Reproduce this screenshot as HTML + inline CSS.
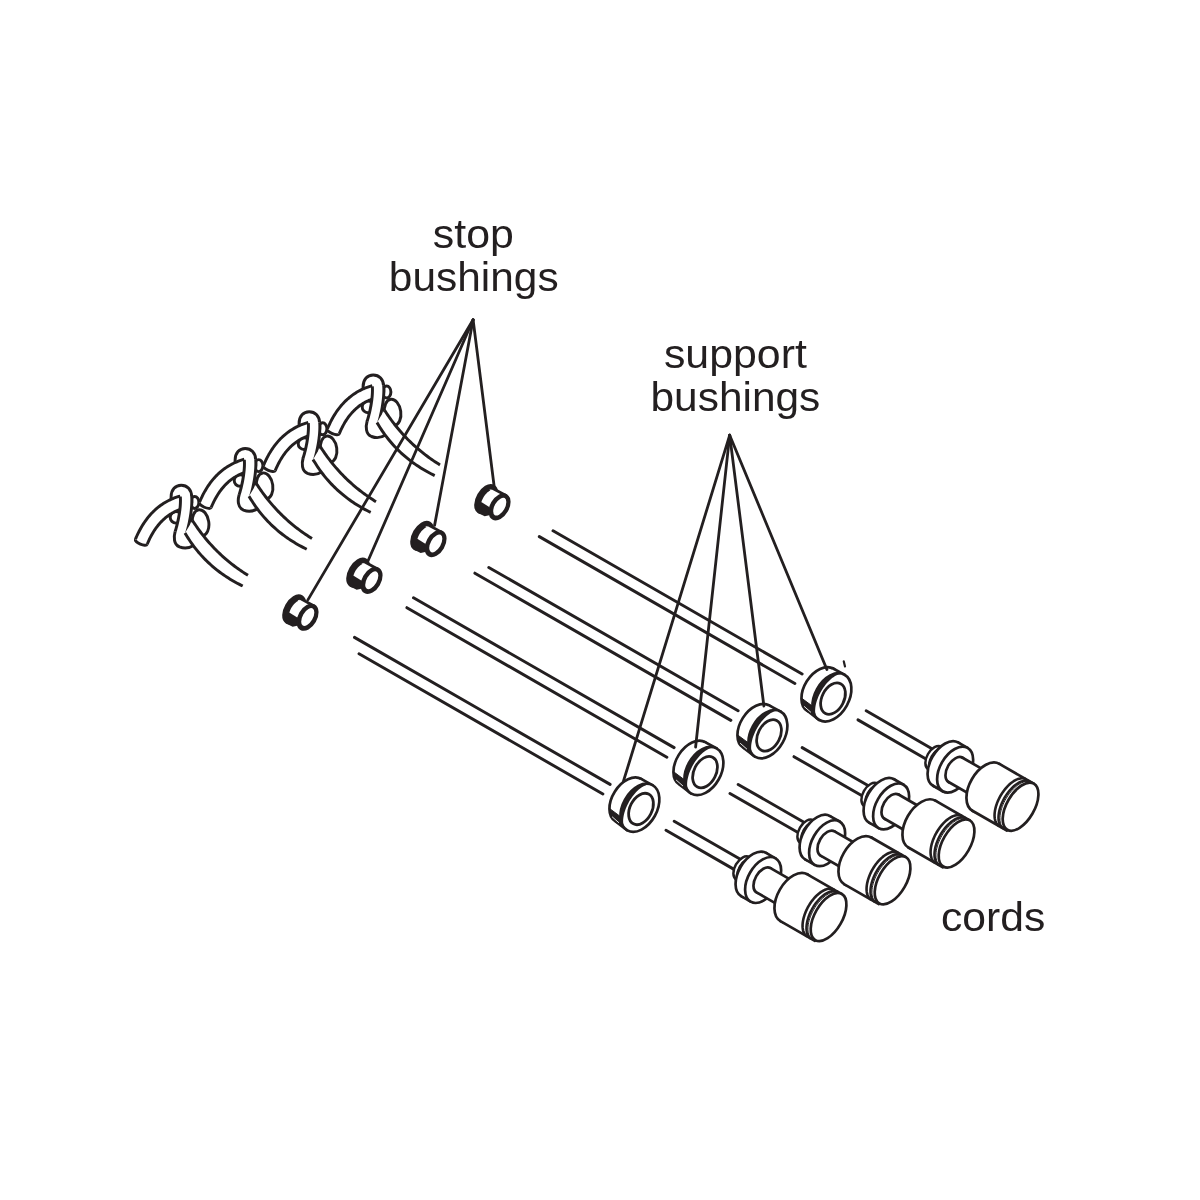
<!DOCTYPE html>
<html><head><meta charset="utf-8"><style>
html,body{margin:0;padding:0;background:#fff;}
body{width:1200px;height:1200px;position:relative;overflow:hidden;}
svg{position:absolute;left:0;top:0;}
</style></head><body>
<svg width="1200" height="1200" viewBox="0 0 1200 1200">
<g stroke-linejoin="round">
<g transform="translate(0.00 -0.00)">
<ellipse cx="200.6" cy="522.8" rx="8.2" ry="13.2" transform="rotate(-8 200.6 522.8)" fill="#fff" stroke="#231f20" stroke-width="2.95"/>
<ellipse cx="194.6" cy="502.4" rx="4.3" ry="6.0" fill="#fff" stroke="#231f20" stroke-width="2.95"/>
<circle cx="176" cy="517.3" r="5.8" fill="#fff" stroke="#231f20" stroke-width="2.95"/>
<path d="M171.1,512 L171.1,497 C171.1,489.5 175.5,485.3 181.2,485.3 C187,485.3 191.7,489.5 191.7,497 L191.7,503" fill="#fff" stroke="#231f20" stroke-width="2.95"/>
<path d="M147.20,544.28 L147.85,542.75 L148.49,541.29 L149.14,539.87 L149.81,538.48 L150.50,537.12 L151.20,535.79 L151.92,534.50 L152.65,533.23 L153.39,532.00 L154.15,530.80 L154.92,529.63 L155.71,528.49 L156.51,527.39 L157.33,526.31 L158.16,525.26 L159.00,524.25 L159.86,523.26 L160.73,522.31 L161.61,521.38 L162.51,520.49 L163.43,519.62 L164.35,518.78 L165.30,517.97 L166.25,517.19 L167.22,516.44 L168.21,515.71 L169.21,515.01 L170.22,514.34 L171.26,513.70 L172.30,513.08 L173.37,512.49 L174.44,511.93 L175.54,511.39 L176.65,510.88 L177.78,510.40 L178.93,509.94 L180.10,509.51 L181.28,509.10 L182.48,508.72 L183.78,508.35 L180.22,496.05 L178.78,496.47 L177.28,496.94 L175.80,497.45 L174.34,497.99 L172.89,498.57 L171.46,499.18 L170.06,499.82 L168.67,500.51 L167.30,501.22 L165.95,501.97 L164.62,502.75 L163.31,503.57 L162.02,504.42 L160.75,505.31 L159.50,506.23 L158.28,507.18 L157.07,508.16 L155.89,509.18 L154.73,510.23 L153.59,511.31 L152.47,512.43 L151.37,513.57 L150.30,514.75 L149.25,515.96 L148.22,517.20 L147.21,518.47 L146.23,519.77 L145.26,521.10 L144.32,522.46 L143.40,523.85 L142.50,525.27 L141.63,526.72 L140.77,528.20 L139.94,529.71 L139.13,531.24 L138.33,532.81 L137.57,534.41 L136.82,536.03 L136.09,537.69 L135.40,539.32 Z" fill="#fff" stroke="none" stroke-width="2.95"/>
<path d="M147.20,544.28 L147.85,542.75 L148.49,541.29 L149.14,539.87 L149.81,538.48 L150.50,537.12 L151.20,535.79 L151.92,534.50 L152.65,533.23 L153.39,532.00 L154.15,530.80 L154.92,529.63 L155.71,528.49 L156.51,527.39 L157.33,526.31 L158.16,525.26 L159.00,524.25 L159.86,523.26 L160.73,522.31 L161.61,521.38 L162.51,520.49 L163.43,519.62 L164.35,518.78 L165.30,517.97 L166.25,517.19 L167.22,516.44 L168.21,515.71 L169.21,515.01 L170.22,514.34 L171.26,513.70 L172.30,513.08 L173.37,512.49 L174.44,511.93 L175.54,511.39 L176.65,510.88 L177.78,510.40 L178.93,509.94 L180.10,509.51 L181.28,509.10 L182.48,508.72 L183.78,508.35" fill="none" stroke="#231f20" stroke-width="2.95"/>
<path d="M135.40,539.32 L136.09,537.69 L136.82,536.03 L137.57,534.41 L138.33,532.81 L139.13,531.24 L139.94,529.71 L140.77,528.20 L141.63,526.72 L142.50,525.27 L143.40,523.85 L144.32,522.46 L145.26,521.10 L146.23,519.77 L147.21,518.47 L148.22,517.20 L149.25,515.96 L150.30,514.75 L151.37,513.57 L152.47,512.43 L153.59,511.31 L154.73,510.23 L155.89,509.18 L157.07,508.16 L158.28,507.18 L159.50,506.23 L160.75,505.31 L162.02,504.42 L163.31,503.57 L164.62,502.75 L165.95,501.97 L167.30,501.22 L168.67,500.51 L170.06,499.82 L171.46,499.18 L172.89,498.57 L174.34,497.99 L175.80,497.45 L177.28,496.94 L178.78,496.47 L180.22,496.05" fill="none" stroke="#231f20" stroke-width="2.95"/>
<path d="M147.20,544.28 C145.94,547.28 134.14,542.31 135.40,539.32" fill="#fff" stroke="#231f20" stroke-width="2.95"/>
<path d="M180.32,496.72 L180.37,497.41 L180.40,498.07 L180.43,498.76 L180.45,499.46 L180.46,500.20 L180.46,500.95 L180.44,501.72 L180.42,502.50 L180.39,503.31 L180.35,504.13 L180.30,504.96 L180.24,505.81 L180.17,506.68 L180.09,507.55 L180.00,508.44 L179.90,509.34 L179.79,510.24 L179.67,511.16 L179.55,512.08 L179.41,513.01 L179.27,513.94 L179.12,514.88 L178.96,515.83 L178.79,516.78 L178.61,517.73 L178.42,518.68 L178.23,519.64 L178.03,520.59 L177.82,521.54 L177.61,522.50 L177.38,523.45 L177.15,524.39 L176.91,525.34 L176.67,526.27 L176.42,527.21 L176.16,528.13 L175.90,529.05 L175.63,529.97 L175.35,530.87 L175.06,531.79 L185.94,535.21 L186.24,534.25 L186.55,533.25 L186.84,532.24 L187.13,531.23 L187.42,530.21 L187.69,529.19 L187.96,528.16 L188.22,527.13 L188.47,526.10 L188.71,525.06 L188.95,524.02 L189.18,522.98 L189.40,521.94 L189.61,520.90 L189.81,519.86 L190.00,518.82 L190.19,517.78 L190.36,516.75 L190.53,515.72 L190.69,514.69 L190.84,513.67 L190.98,512.65 L191.10,511.64 L191.22,510.63 L191.33,509.64 L191.43,508.64 L191.52,507.66 L191.60,506.69 L191.67,505.72 L191.73,504.76 L191.78,503.82 L191.82,502.88 L191.84,501.96 L191.86,501.05 L191.86,500.15 L191.85,499.26 L191.83,498.38 L191.79,497.52 L191.74,496.67 L191.68,495.88 Z" fill="#fff" stroke="none" stroke-width="2.95"/>
<path d="M180.32,496.72 L180.37,497.41 L180.40,498.07 L180.43,498.76 L180.45,499.46 L180.46,500.20 L180.46,500.95 L180.44,501.72 L180.42,502.50 L180.39,503.31 L180.35,504.13 L180.30,504.96 L180.24,505.81 L180.17,506.68 L180.09,507.55 L180.00,508.44 L179.90,509.34 L179.79,510.24 L179.67,511.16 L179.55,512.08 L179.41,513.01 L179.27,513.94 L179.12,514.88 L178.96,515.83 L178.79,516.78 L178.61,517.73 L178.42,518.68 L178.23,519.64 L178.03,520.59 L177.82,521.54 L177.61,522.50 L177.38,523.45 L177.15,524.39 L176.91,525.34 L176.67,526.27 L176.42,527.21 L176.16,528.13 L175.90,529.05 L175.63,529.97 L175.35,530.87 L175.06,531.79" fill="none" stroke="#231f20" stroke-width="2.95"/>
<path d="M191.68,495.88 L191.74,496.67 L191.79,497.52 L191.83,498.38 L191.85,499.26 L191.86,500.15 L191.86,501.05 L191.84,501.96 L191.82,502.88 L191.78,503.82 L191.73,504.76 L191.67,505.72 L191.60,506.69 L191.52,507.66 L191.43,508.64 L191.33,509.64 L191.22,510.63 L191.10,511.64 L190.98,512.65 L190.84,513.67 L190.69,514.69 L190.53,515.72 L190.36,516.75 L190.19,517.78 L190.00,518.82 L189.81,519.86 L189.61,520.90 L189.40,521.94 L189.18,522.98 L188.95,524.02 L188.71,525.06 L188.47,526.10 L188.22,527.13 L187.96,528.16 L187.69,529.19 L187.42,530.21 L187.13,531.23 L186.84,532.24 L186.55,533.25 L186.24,534.25 L185.94,535.21" fill="none" stroke="#231f20" stroke-width="2.95"/>
<path d="M175.1,531.6 C173.6,537 173.6,544.5 179.5,546.9 C184.5,548.8 189.5,548 193.5,545.5" fill="#fff" stroke="#231f20" stroke-width="2.95"/>
<path d="M192.50,520.50 L193.59,522.19 L194.70,523.87 L195.82,525.53 L196.95,527.17 L198.10,528.79 L199.27,530.40 L200.45,532.00 L201.65,533.57 L202.86,535.13 L204.09,536.67 L205.33,538.20 L206.59,539.71 L207.86,541.21 L209.15,542.68 L210.45,544.14 L211.77,545.59 L213.11,547.02 L214.46,548.43 L215.82,549.82 L217.20,551.20 L218.60,552.56 L220.01,553.91 L221.43,555.24 L222.87,556.55 L224.33,557.84 L225.80,559.12 L227.29,560.39 L228.79,561.63 L230.31,562.86 L231.84,564.08 L233.39,565.27 L234.95,566.45 L236.53,567.62 L238.12,568.76 L239.73,569.89 L241.35,571.01 L242.99,572.11 L244.65,573.19 L246.32,574.25 L248.00,575.30 L242.70,586.00 L240.84,585.08 L239.00,584.15 L237.18,583.19 L235.38,582.21 L233.61,581.21 L231.85,580.19 L230.12,579.15 L228.41,578.09 L226.72,577.00 L225.05,575.90 L223.40,574.77 L221.78,573.63 L220.17,572.46 L218.59,571.27 L217.03,570.06 L215.49,568.83 L213.97,567.58 L212.48,566.31 L211.00,565.01 L209.55,563.70 L208.12,562.36 L206.71,561.01 L205.32,559.63 L203.95,558.23 L202.61,556.81 L201.28,555.37 L199.98,553.91 L198.70,552.43 L197.44,550.92 L196.20,549.40 L194.98,547.85 L193.79,546.29 L192.61,544.70 L191.46,543.09 L190.33,541.46 L189.22,539.81 L188.13,538.14 L187.07,536.45 L186.02,534.73 L185.00,533.00 Z" fill="#fff" stroke="none" stroke-width="2.95"/>
<path d="M192.50,520.50 L193.59,522.19 L194.70,523.87 L195.82,525.53 L196.95,527.17 L198.10,528.79 L199.27,530.40 L200.45,532.00 L201.65,533.57 L202.86,535.13 L204.09,536.67 L205.33,538.20 L206.59,539.71 L207.86,541.21 L209.15,542.68 L210.45,544.14 L211.77,545.59 L213.11,547.02 L214.46,548.43 L215.82,549.82 L217.20,551.20 L218.60,552.56 L220.01,553.91 L221.43,555.24 L222.87,556.55 L224.33,557.84 L225.80,559.12 L227.29,560.39 L228.79,561.63 L230.31,562.86 L231.84,564.08 L233.39,565.27 L234.95,566.45 L236.53,567.62 L238.12,568.76 L239.73,569.89 L241.35,571.01 L242.99,572.11 L244.65,573.19 L246.32,574.25 L248.00,575.30" fill="none" stroke="#231f20" stroke-width="2.95"/>
<path d="M185.00,533.00 L186.02,534.73 L187.07,536.45 L188.13,538.14 L189.22,539.81 L190.33,541.46 L191.46,543.09 L192.61,544.70 L193.79,546.29 L194.98,547.85 L196.20,549.40 L197.44,550.92 L198.70,552.43 L199.98,553.91 L201.28,555.37 L202.61,556.81 L203.95,558.23 L205.32,559.63 L206.71,561.01 L208.12,562.36 L209.55,563.70 L211.00,565.01 L212.48,566.31 L213.97,567.58 L215.49,568.83 L217.03,570.06 L218.59,571.27 L220.17,572.46 L221.78,573.63 L223.40,574.77 L225.05,575.90 L226.72,577.00 L228.41,578.09 L230.12,579.15 L231.85,580.19 L233.61,581.21 L235.38,582.21 L237.18,583.19 L239.00,584.15 L240.84,585.08 L242.70,586.00" fill="none" stroke="#231f20" stroke-width="2.95"/>
</g>
<g transform="translate(64.00 -36.80)">
<ellipse cx="200.6" cy="522.8" rx="8.2" ry="13.2" transform="rotate(-8 200.6 522.8)" fill="#fff" stroke="#231f20" stroke-width="2.95"/>
<ellipse cx="194.6" cy="502.4" rx="4.3" ry="6.0" fill="#fff" stroke="#231f20" stroke-width="2.95"/>
<circle cx="176" cy="517.3" r="5.8" fill="#fff" stroke="#231f20" stroke-width="2.95"/>
<path d="M171.1,512 L171.1,497 C171.1,489.5 175.5,485.3 181.2,485.3 C187,485.3 191.7,489.5 191.7,497 L191.7,503" fill="#fff" stroke="#231f20" stroke-width="2.95"/>
<path d="M147.20,544.28 L147.85,542.75 L148.49,541.29 L149.14,539.87 L149.81,538.48 L150.50,537.12 L151.20,535.79 L151.92,534.50 L152.65,533.23 L153.39,532.00 L154.15,530.80 L154.92,529.63 L155.71,528.49 L156.51,527.39 L157.33,526.31 L158.16,525.26 L159.00,524.25 L159.86,523.26 L160.73,522.31 L161.61,521.38 L162.51,520.49 L163.43,519.62 L164.35,518.78 L165.30,517.97 L166.25,517.19 L167.22,516.44 L168.21,515.71 L169.21,515.01 L170.22,514.34 L171.26,513.70 L172.30,513.08 L173.37,512.49 L174.44,511.93 L175.54,511.39 L176.65,510.88 L177.78,510.40 L178.93,509.94 L180.10,509.51 L181.28,509.10 L182.48,508.72 L183.78,508.35 L180.22,496.05 L178.78,496.47 L177.28,496.94 L175.80,497.45 L174.34,497.99 L172.89,498.57 L171.46,499.18 L170.06,499.82 L168.67,500.51 L167.30,501.22 L165.95,501.97 L164.62,502.75 L163.31,503.57 L162.02,504.42 L160.75,505.31 L159.50,506.23 L158.28,507.18 L157.07,508.16 L155.89,509.18 L154.73,510.23 L153.59,511.31 L152.47,512.43 L151.37,513.57 L150.30,514.75 L149.25,515.96 L148.22,517.20 L147.21,518.47 L146.23,519.77 L145.26,521.10 L144.32,522.46 L143.40,523.85 L142.50,525.27 L141.63,526.72 L140.77,528.20 L139.94,529.71 L139.13,531.24 L138.33,532.81 L137.57,534.41 L136.82,536.03 L136.09,537.69 L135.40,539.32 Z" fill="#fff" stroke="none" stroke-width="2.95"/>
<path d="M147.20,544.28 L147.85,542.75 L148.49,541.29 L149.14,539.87 L149.81,538.48 L150.50,537.12 L151.20,535.79 L151.92,534.50 L152.65,533.23 L153.39,532.00 L154.15,530.80 L154.92,529.63 L155.71,528.49 L156.51,527.39 L157.33,526.31 L158.16,525.26 L159.00,524.25 L159.86,523.26 L160.73,522.31 L161.61,521.38 L162.51,520.49 L163.43,519.62 L164.35,518.78 L165.30,517.97 L166.25,517.19 L167.22,516.44 L168.21,515.71 L169.21,515.01 L170.22,514.34 L171.26,513.70 L172.30,513.08 L173.37,512.49 L174.44,511.93 L175.54,511.39 L176.65,510.88 L177.78,510.40 L178.93,509.94 L180.10,509.51 L181.28,509.10 L182.48,508.72 L183.78,508.35" fill="none" stroke="#231f20" stroke-width="2.95"/>
<path d="M135.40,539.32 L136.09,537.69 L136.82,536.03 L137.57,534.41 L138.33,532.81 L139.13,531.24 L139.94,529.71 L140.77,528.20 L141.63,526.72 L142.50,525.27 L143.40,523.85 L144.32,522.46 L145.26,521.10 L146.23,519.77 L147.21,518.47 L148.22,517.20 L149.25,515.96 L150.30,514.75 L151.37,513.57 L152.47,512.43 L153.59,511.31 L154.73,510.23 L155.89,509.18 L157.07,508.16 L158.28,507.18 L159.50,506.23 L160.75,505.31 L162.02,504.42 L163.31,503.57 L164.62,502.75 L165.95,501.97 L167.30,501.22 L168.67,500.51 L170.06,499.82 L171.46,499.18 L172.89,498.57 L174.34,497.99 L175.80,497.45 L177.28,496.94 L178.78,496.47 L180.22,496.05" fill="none" stroke="#231f20" stroke-width="2.95"/>
<path d="M147.20,544.28 C145.94,547.28 134.14,542.31 135.40,539.32" fill="#fff" stroke="#231f20" stroke-width="2.95"/>
<path d="M180.32,496.72 L180.37,497.41 L180.40,498.07 L180.43,498.76 L180.45,499.46 L180.46,500.20 L180.46,500.95 L180.44,501.72 L180.42,502.50 L180.39,503.31 L180.35,504.13 L180.30,504.96 L180.24,505.81 L180.17,506.68 L180.09,507.55 L180.00,508.44 L179.90,509.34 L179.79,510.24 L179.67,511.16 L179.55,512.08 L179.41,513.01 L179.27,513.94 L179.12,514.88 L178.96,515.83 L178.79,516.78 L178.61,517.73 L178.42,518.68 L178.23,519.64 L178.03,520.59 L177.82,521.54 L177.61,522.50 L177.38,523.45 L177.15,524.39 L176.91,525.34 L176.67,526.27 L176.42,527.21 L176.16,528.13 L175.90,529.05 L175.63,529.97 L175.35,530.87 L175.06,531.79 L185.94,535.21 L186.24,534.25 L186.55,533.25 L186.84,532.24 L187.13,531.23 L187.42,530.21 L187.69,529.19 L187.96,528.16 L188.22,527.13 L188.47,526.10 L188.71,525.06 L188.95,524.02 L189.18,522.98 L189.40,521.94 L189.61,520.90 L189.81,519.86 L190.00,518.82 L190.19,517.78 L190.36,516.75 L190.53,515.72 L190.69,514.69 L190.84,513.67 L190.98,512.65 L191.10,511.64 L191.22,510.63 L191.33,509.64 L191.43,508.64 L191.52,507.66 L191.60,506.69 L191.67,505.72 L191.73,504.76 L191.78,503.82 L191.82,502.88 L191.84,501.96 L191.86,501.05 L191.86,500.15 L191.85,499.26 L191.83,498.38 L191.79,497.52 L191.74,496.67 L191.68,495.88 Z" fill="#fff" stroke="none" stroke-width="2.95"/>
<path d="M180.32,496.72 L180.37,497.41 L180.40,498.07 L180.43,498.76 L180.45,499.46 L180.46,500.20 L180.46,500.95 L180.44,501.72 L180.42,502.50 L180.39,503.31 L180.35,504.13 L180.30,504.96 L180.24,505.81 L180.17,506.68 L180.09,507.55 L180.00,508.44 L179.90,509.34 L179.79,510.24 L179.67,511.16 L179.55,512.08 L179.41,513.01 L179.27,513.94 L179.12,514.88 L178.96,515.83 L178.79,516.78 L178.61,517.73 L178.42,518.68 L178.23,519.64 L178.03,520.59 L177.82,521.54 L177.61,522.50 L177.38,523.45 L177.15,524.39 L176.91,525.34 L176.67,526.27 L176.42,527.21 L176.16,528.13 L175.90,529.05 L175.63,529.97 L175.35,530.87 L175.06,531.79" fill="none" stroke="#231f20" stroke-width="2.95"/>
<path d="M191.68,495.88 L191.74,496.67 L191.79,497.52 L191.83,498.38 L191.85,499.26 L191.86,500.15 L191.86,501.05 L191.84,501.96 L191.82,502.88 L191.78,503.82 L191.73,504.76 L191.67,505.72 L191.60,506.69 L191.52,507.66 L191.43,508.64 L191.33,509.64 L191.22,510.63 L191.10,511.64 L190.98,512.65 L190.84,513.67 L190.69,514.69 L190.53,515.72 L190.36,516.75 L190.19,517.78 L190.00,518.82 L189.81,519.86 L189.61,520.90 L189.40,521.94 L189.18,522.98 L188.95,524.02 L188.71,525.06 L188.47,526.10 L188.22,527.13 L187.96,528.16 L187.69,529.19 L187.42,530.21 L187.13,531.23 L186.84,532.24 L186.55,533.25 L186.24,534.25 L185.94,535.21" fill="none" stroke="#231f20" stroke-width="2.95"/>
<path d="M175.1,531.6 C173.6,537 173.6,544.5 179.5,546.9 C184.5,548.8 189.5,548 193.5,545.5" fill="#fff" stroke="#231f20" stroke-width="2.95"/>
<path d="M192.50,520.50 L193.59,522.19 L194.70,523.87 L195.82,525.53 L196.95,527.17 L198.10,528.79 L199.27,530.40 L200.45,532.00 L201.65,533.57 L202.86,535.13 L204.09,536.67 L205.33,538.20 L206.59,539.71 L207.86,541.21 L209.15,542.68 L210.45,544.14 L211.77,545.59 L213.11,547.02 L214.46,548.43 L215.82,549.82 L217.20,551.20 L218.60,552.56 L220.01,553.91 L221.43,555.24 L222.87,556.55 L224.33,557.84 L225.80,559.12 L227.29,560.39 L228.79,561.63 L230.31,562.86 L231.84,564.08 L233.39,565.27 L234.95,566.45 L236.53,567.62 L238.12,568.76 L239.73,569.89 L241.35,571.01 L242.99,572.11 L244.65,573.19 L246.32,574.25 L248.00,575.30 L242.70,586.00 L240.84,585.08 L239.00,584.15 L237.18,583.19 L235.38,582.21 L233.61,581.21 L231.85,580.19 L230.12,579.15 L228.41,578.09 L226.72,577.00 L225.05,575.90 L223.40,574.77 L221.78,573.63 L220.17,572.46 L218.59,571.27 L217.03,570.06 L215.49,568.83 L213.97,567.58 L212.48,566.31 L211.00,565.01 L209.55,563.70 L208.12,562.36 L206.71,561.01 L205.32,559.63 L203.95,558.23 L202.61,556.81 L201.28,555.37 L199.98,553.91 L198.70,552.43 L197.44,550.92 L196.20,549.40 L194.98,547.85 L193.79,546.29 L192.61,544.70 L191.46,543.09 L190.33,541.46 L189.22,539.81 L188.13,538.14 L187.07,536.45 L186.02,534.73 L185.00,533.00 Z" fill="#fff" stroke="none" stroke-width="2.95"/>
<path d="M192.50,520.50 L193.59,522.19 L194.70,523.87 L195.82,525.53 L196.95,527.17 L198.10,528.79 L199.27,530.40 L200.45,532.00 L201.65,533.57 L202.86,535.13 L204.09,536.67 L205.33,538.20 L206.59,539.71 L207.86,541.21 L209.15,542.68 L210.45,544.14 L211.77,545.59 L213.11,547.02 L214.46,548.43 L215.82,549.82 L217.20,551.20 L218.60,552.56 L220.01,553.91 L221.43,555.24 L222.87,556.55 L224.33,557.84 L225.80,559.12 L227.29,560.39 L228.79,561.63 L230.31,562.86 L231.84,564.08 L233.39,565.27 L234.95,566.45 L236.53,567.62 L238.12,568.76 L239.73,569.89 L241.35,571.01 L242.99,572.11 L244.65,573.19 L246.32,574.25 L248.00,575.30" fill="none" stroke="#231f20" stroke-width="2.95"/>
<path d="M185.00,533.00 L186.02,534.73 L187.07,536.45 L188.13,538.14 L189.22,539.81 L190.33,541.46 L191.46,543.09 L192.61,544.70 L193.79,546.29 L194.98,547.85 L196.20,549.40 L197.44,550.92 L198.70,552.43 L199.98,553.91 L201.28,555.37 L202.61,556.81 L203.95,558.23 L205.32,559.63 L206.71,561.01 L208.12,562.36 L209.55,563.70 L211.00,565.01 L212.48,566.31 L213.97,567.58 L215.49,568.83 L217.03,570.06 L218.59,571.27 L220.17,572.46 L221.78,573.63 L223.40,574.77 L225.05,575.90 L226.72,577.00 L228.41,578.09 L230.12,579.15 L231.85,580.19 L233.61,581.21 L235.38,582.21 L237.18,583.19 L239.00,584.15 L240.84,585.08 L242.70,586.00" fill="none" stroke="#231f20" stroke-width="2.95"/>
</g>
<g transform="translate(128.00 -73.60)">
<ellipse cx="200.6" cy="522.8" rx="8.2" ry="13.2" transform="rotate(-8 200.6 522.8)" fill="#fff" stroke="#231f20" stroke-width="2.95"/>
<ellipse cx="194.6" cy="502.4" rx="4.3" ry="6.0" fill="#fff" stroke="#231f20" stroke-width="2.95"/>
<circle cx="176" cy="517.3" r="5.8" fill="#fff" stroke="#231f20" stroke-width="2.95"/>
<path d="M171.1,512 L171.1,497 C171.1,489.5 175.5,485.3 181.2,485.3 C187,485.3 191.7,489.5 191.7,497 L191.7,503" fill="#fff" stroke="#231f20" stroke-width="2.95"/>
<path d="M147.20,544.28 L147.85,542.75 L148.49,541.29 L149.14,539.87 L149.81,538.48 L150.50,537.12 L151.20,535.79 L151.92,534.50 L152.65,533.23 L153.39,532.00 L154.15,530.80 L154.92,529.63 L155.71,528.49 L156.51,527.39 L157.33,526.31 L158.16,525.26 L159.00,524.25 L159.86,523.26 L160.73,522.31 L161.61,521.38 L162.51,520.49 L163.43,519.62 L164.35,518.78 L165.30,517.97 L166.25,517.19 L167.22,516.44 L168.21,515.71 L169.21,515.01 L170.22,514.34 L171.26,513.70 L172.30,513.08 L173.37,512.49 L174.44,511.93 L175.54,511.39 L176.65,510.88 L177.78,510.40 L178.93,509.94 L180.10,509.51 L181.28,509.10 L182.48,508.72 L183.78,508.35 L180.22,496.05 L178.78,496.47 L177.28,496.94 L175.80,497.45 L174.34,497.99 L172.89,498.57 L171.46,499.18 L170.06,499.82 L168.67,500.51 L167.30,501.22 L165.95,501.97 L164.62,502.75 L163.31,503.57 L162.02,504.42 L160.75,505.31 L159.50,506.23 L158.28,507.18 L157.07,508.16 L155.89,509.18 L154.73,510.23 L153.59,511.31 L152.47,512.43 L151.37,513.57 L150.30,514.75 L149.25,515.96 L148.22,517.20 L147.21,518.47 L146.23,519.77 L145.26,521.10 L144.32,522.46 L143.40,523.85 L142.50,525.27 L141.63,526.72 L140.77,528.20 L139.94,529.71 L139.13,531.24 L138.33,532.81 L137.57,534.41 L136.82,536.03 L136.09,537.69 L135.40,539.32 Z" fill="#fff" stroke="none" stroke-width="2.95"/>
<path d="M147.20,544.28 L147.85,542.75 L148.49,541.29 L149.14,539.87 L149.81,538.48 L150.50,537.12 L151.20,535.79 L151.92,534.50 L152.65,533.23 L153.39,532.00 L154.15,530.80 L154.92,529.63 L155.71,528.49 L156.51,527.39 L157.33,526.31 L158.16,525.26 L159.00,524.25 L159.86,523.26 L160.73,522.31 L161.61,521.38 L162.51,520.49 L163.43,519.62 L164.35,518.78 L165.30,517.97 L166.25,517.19 L167.22,516.44 L168.21,515.71 L169.21,515.01 L170.22,514.34 L171.26,513.70 L172.30,513.08 L173.37,512.49 L174.44,511.93 L175.54,511.39 L176.65,510.88 L177.78,510.40 L178.93,509.94 L180.10,509.51 L181.28,509.10 L182.48,508.72 L183.78,508.35" fill="none" stroke="#231f20" stroke-width="2.95"/>
<path d="M135.40,539.32 L136.09,537.69 L136.82,536.03 L137.57,534.41 L138.33,532.81 L139.13,531.24 L139.94,529.71 L140.77,528.20 L141.63,526.72 L142.50,525.27 L143.40,523.85 L144.32,522.46 L145.26,521.10 L146.23,519.77 L147.21,518.47 L148.22,517.20 L149.25,515.96 L150.30,514.75 L151.37,513.57 L152.47,512.43 L153.59,511.31 L154.73,510.23 L155.89,509.18 L157.07,508.16 L158.28,507.18 L159.50,506.23 L160.75,505.31 L162.02,504.42 L163.31,503.57 L164.62,502.75 L165.95,501.97 L167.30,501.22 L168.67,500.51 L170.06,499.82 L171.46,499.18 L172.89,498.57 L174.34,497.99 L175.80,497.45 L177.28,496.94 L178.78,496.47 L180.22,496.05" fill="none" stroke="#231f20" stroke-width="2.95"/>
<path d="M147.20,544.28 C145.94,547.28 134.14,542.31 135.40,539.32" fill="#fff" stroke="#231f20" stroke-width="2.95"/>
<path d="M180.32,496.72 L180.37,497.41 L180.40,498.07 L180.43,498.76 L180.45,499.46 L180.46,500.20 L180.46,500.95 L180.44,501.72 L180.42,502.50 L180.39,503.31 L180.35,504.13 L180.30,504.96 L180.24,505.81 L180.17,506.68 L180.09,507.55 L180.00,508.44 L179.90,509.34 L179.79,510.24 L179.67,511.16 L179.55,512.08 L179.41,513.01 L179.27,513.94 L179.12,514.88 L178.96,515.83 L178.79,516.78 L178.61,517.73 L178.42,518.68 L178.23,519.64 L178.03,520.59 L177.82,521.54 L177.61,522.50 L177.38,523.45 L177.15,524.39 L176.91,525.34 L176.67,526.27 L176.42,527.21 L176.16,528.13 L175.90,529.05 L175.63,529.97 L175.35,530.87 L175.06,531.79 L185.94,535.21 L186.24,534.25 L186.55,533.25 L186.84,532.24 L187.13,531.23 L187.42,530.21 L187.69,529.19 L187.96,528.16 L188.22,527.13 L188.47,526.10 L188.71,525.06 L188.95,524.02 L189.18,522.98 L189.40,521.94 L189.61,520.90 L189.81,519.86 L190.00,518.82 L190.19,517.78 L190.36,516.75 L190.53,515.72 L190.69,514.69 L190.84,513.67 L190.98,512.65 L191.10,511.64 L191.22,510.63 L191.33,509.64 L191.43,508.64 L191.52,507.66 L191.60,506.69 L191.67,505.72 L191.73,504.76 L191.78,503.82 L191.82,502.88 L191.84,501.96 L191.86,501.05 L191.86,500.15 L191.85,499.26 L191.83,498.38 L191.79,497.52 L191.74,496.67 L191.68,495.88 Z" fill="#fff" stroke="none" stroke-width="2.95"/>
<path d="M180.32,496.72 L180.37,497.41 L180.40,498.07 L180.43,498.76 L180.45,499.46 L180.46,500.20 L180.46,500.95 L180.44,501.72 L180.42,502.50 L180.39,503.31 L180.35,504.13 L180.30,504.96 L180.24,505.81 L180.17,506.68 L180.09,507.55 L180.00,508.44 L179.90,509.34 L179.79,510.24 L179.67,511.16 L179.55,512.08 L179.41,513.01 L179.27,513.94 L179.12,514.88 L178.96,515.83 L178.79,516.78 L178.61,517.73 L178.42,518.68 L178.23,519.64 L178.03,520.59 L177.82,521.54 L177.61,522.50 L177.38,523.45 L177.15,524.39 L176.91,525.34 L176.67,526.27 L176.42,527.21 L176.16,528.13 L175.90,529.05 L175.63,529.97 L175.35,530.87 L175.06,531.79" fill="none" stroke="#231f20" stroke-width="2.95"/>
<path d="M191.68,495.88 L191.74,496.67 L191.79,497.52 L191.83,498.38 L191.85,499.26 L191.86,500.15 L191.86,501.05 L191.84,501.96 L191.82,502.88 L191.78,503.82 L191.73,504.76 L191.67,505.72 L191.60,506.69 L191.52,507.66 L191.43,508.64 L191.33,509.64 L191.22,510.63 L191.10,511.64 L190.98,512.65 L190.84,513.67 L190.69,514.69 L190.53,515.72 L190.36,516.75 L190.19,517.78 L190.00,518.82 L189.81,519.86 L189.61,520.90 L189.40,521.94 L189.18,522.98 L188.95,524.02 L188.71,525.06 L188.47,526.10 L188.22,527.13 L187.96,528.16 L187.69,529.19 L187.42,530.21 L187.13,531.23 L186.84,532.24 L186.55,533.25 L186.24,534.25 L185.94,535.21" fill="none" stroke="#231f20" stroke-width="2.95"/>
<path d="M175.1,531.6 C173.6,537 173.6,544.5 179.5,546.9 C184.5,548.8 189.5,548 193.5,545.5" fill="#fff" stroke="#231f20" stroke-width="2.95"/>
<path d="M192.50,520.50 L193.59,522.19 L194.70,523.87 L195.82,525.53 L196.95,527.17 L198.10,528.79 L199.27,530.40 L200.45,532.00 L201.65,533.57 L202.86,535.13 L204.09,536.67 L205.33,538.20 L206.59,539.71 L207.86,541.21 L209.15,542.68 L210.45,544.14 L211.77,545.59 L213.11,547.02 L214.46,548.43 L215.82,549.82 L217.20,551.20 L218.60,552.56 L220.01,553.91 L221.43,555.24 L222.87,556.55 L224.33,557.84 L225.80,559.12 L227.29,560.39 L228.79,561.63 L230.31,562.86 L231.84,564.08 L233.39,565.27 L234.95,566.45 L236.53,567.62 L238.12,568.76 L239.73,569.89 L241.35,571.01 L242.99,572.11 L244.65,573.19 L246.32,574.25 L248.00,575.30 L242.70,586.00 L240.84,585.08 L239.00,584.15 L237.18,583.19 L235.38,582.21 L233.61,581.21 L231.85,580.19 L230.12,579.15 L228.41,578.09 L226.72,577.00 L225.05,575.90 L223.40,574.77 L221.78,573.63 L220.17,572.46 L218.59,571.27 L217.03,570.06 L215.49,568.83 L213.97,567.58 L212.48,566.31 L211.00,565.01 L209.55,563.70 L208.12,562.36 L206.71,561.01 L205.32,559.63 L203.95,558.23 L202.61,556.81 L201.28,555.37 L199.98,553.91 L198.70,552.43 L197.44,550.92 L196.20,549.40 L194.98,547.85 L193.79,546.29 L192.61,544.70 L191.46,543.09 L190.33,541.46 L189.22,539.81 L188.13,538.14 L187.07,536.45 L186.02,534.73 L185.00,533.00 Z" fill="#fff" stroke="none" stroke-width="2.95"/>
<path d="M192.50,520.50 L193.59,522.19 L194.70,523.87 L195.82,525.53 L196.95,527.17 L198.10,528.79 L199.27,530.40 L200.45,532.00 L201.65,533.57 L202.86,535.13 L204.09,536.67 L205.33,538.20 L206.59,539.71 L207.86,541.21 L209.15,542.68 L210.45,544.14 L211.77,545.59 L213.11,547.02 L214.46,548.43 L215.82,549.82 L217.20,551.20 L218.60,552.56 L220.01,553.91 L221.43,555.24 L222.87,556.55 L224.33,557.84 L225.80,559.12 L227.29,560.39 L228.79,561.63 L230.31,562.86 L231.84,564.08 L233.39,565.27 L234.95,566.45 L236.53,567.62 L238.12,568.76 L239.73,569.89 L241.35,571.01 L242.99,572.11 L244.65,573.19 L246.32,574.25 L248.00,575.30" fill="none" stroke="#231f20" stroke-width="2.95"/>
<path d="M185.00,533.00 L186.02,534.73 L187.07,536.45 L188.13,538.14 L189.22,539.81 L190.33,541.46 L191.46,543.09 L192.61,544.70 L193.79,546.29 L194.98,547.85 L196.20,549.40 L197.44,550.92 L198.70,552.43 L199.98,553.91 L201.28,555.37 L202.61,556.81 L203.95,558.23 L205.32,559.63 L206.71,561.01 L208.12,562.36 L209.55,563.70 L211.00,565.01 L212.48,566.31 L213.97,567.58 L215.49,568.83 L217.03,570.06 L218.59,571.27 L220.17,572.46 L221.78,573.63 L223.40,574.77 L225.05,575.90 L226.72,577.00 L228.41,578.09 L230.12,579.15 L231.85,580.19 L233.61,581.21 L235.38,582.21 L237.18,583.19 L239.00,584.15 L240.84,585.08 L242.70,586.00" fill="none" stroke="#231f20" stroke-width="2.95"/>
</g>
<g transform="translate(192.00 -110.40)">
<ellipse cx="200.6" cy="522.8" rx="8.2" ry="13.2" transform="rotate(-8 200.6 522.8)" fill="#fff" stroke="#231f20" stroke-width="2.95"/>
<ellipse cx="194.6" cy="502.4" rx="4.3" ry="6.0" fill="#fff" stroke="#231f20" stroke-width="2.95"/>
<circle cx="176" cy="517.3" r="5.8" fill="#fff" stroke="#231f20" stroke-width="2.95"/>
<path d="M171.1,512 L171.1,497 C171.1,489.5 175.5,485.3 181.2,485.3 C187,485.3 191.7,489.5 191.7,497 L191.7,503" fill="#fff" stroke="#231f20" stroke-width="2.95"/>
<path d="M147.20,544.28 L147.85,542.75 L148.49,541.29 L149.14,539.87 L149.81,538.48 L150.50,537.12 L151.20,535.79 L151.92,534.50 L152.65,533.23 L153.39,532.00 L154.15,530.80 L154.92,529.63 L155.71,528.49 L156.51,527.39 L157.33,526.31 L158.16,525.26 L159.00,524.25 L159.86,523.26 L160.73,522.31 L161.61,521.38 L162.51,520.49 L163.43,519.62 L164.35,518.78 L165.30,517.97 L166.25,517.19 L167.22,516.44 L168.21,515.71 L169.21,515.01 L170.22,514.34 L171.26,513.70 L172.30,513.08 L173.37,512.49 L174.44,511.93 L175.54,511.39 L176.65,510.88 L177.78,510.40 L178.93,509.94 L180.10,509.51 L181.28,509.10 L182.48,508.72 L183.78,508.35 L180.22,496.05 L178.78,496.47 L177.28,496.94 L175.80,497.45 L174.34,497.99 L172.89,498.57 L171.46,499.18 L170.06,499.82 L168.67,500.51 L167.30,501.22 L165.95,501.97 L164.62,502.75 L163.31,503.57 L162.02,504.42 L160.75,505.31 L159.50,506.23 L158.28,507.18 L157.07,508.16 L155.89,509.18 L154.73,510.23 L153.59,511.31 L152.47,512.43 L151.37,513.57 L150.30,514.75 L149.25,515.96 L148.22,517.20 L147.21,518.47 L146.23,519.77 L145.26,521.10 L144.32,522.46 L143.40,523.85 L142.50,525.27 L141.63,526.72 L140.77,528.20 L139.94,529.71 L139.13,531.24 L138.33,532.81 L137.57,534.41 L136.82,536.03 L136.09,537.69 L135.40,539.32 Z" fill="#fff" stroke="none" stroke-width="2.95"/>
<path d="M147.20,544.28 L147.85,542.75 L148.49,541.29 L149.14,539.87 L149.81,538.48 L150.50,537.12 L151.20,535.79 L151.92,534.50 L152.65,533.23 L153.39,532.00 L154.15,530.80 L154.92,529.63 L155.71,528.49 L156.51,527.39 L157.33,526.31 L158.16,525.26 L159.00,524.25 L159.86,523.26 L160.73,522.31 L161.61,521.38 L162.51,520.49 L163.43,519.62 L164.35,518.78 L165.30,517.97 L166.25,517.19 L167.22,516.44 L168.21,515.71 L169.21,515.01 L170.22,514.34 L171.26,513.70 L172.30,513.08 L173.37,512.49 L174.44,511.93 L175.54,511.39 L176.65,510.88 L177.78,510.40 L178.93,509.94 L180.10,509.51 L181.28,509.10 L182.48,508.72 L183.78,508.35" fill="none" stroke="#231f20" stroke-width="2.95"/>
<path d="M135.40,539.32 L136.09,537.69 L136.82,536.03 L137.57,534.41 L138.33,532.81 L139.13,531.24 L139.94,529.71 L140.77,528.20 L141.63,526.72 L142.50,525.27 L143.40,523.85 L144.32,522.46 L145.26,521.10 L146.23,519.77 L147.21,518.47 L148.22,517.20 L149.25,515.96 L150.30,514.75 L151.37,513.57 L152.47,512.43 L153.59,511.31 L154.73,510.23 L155.89,509.18 L157.07,508.16 L158.28,507.18 L159.50,506.23 L160.75,505.31 L162.02,504.42 L163.31,503.57 L164.62,502.75 L165.95,501.97 L167.30,501.22 L168.67,500.51 L170.06,499.82 L171.46,499.18 L172.89,498.57 L174.34,497.99 L175.80,497.45 L177.28,496.94 L178.78,496.47 L180.22,496.05" fill="none" stroke="#231f20" stroke-width="2.95"/>
<path d="M147.20,544.28 C145.94,547.28 134.14,542.31 135.40,539.32" fill="#fff" stroke="#231f20" stroke-width="2.95"/>
<path d="M180.32,496.72 L180.37,497.41 L180.40,498.07 L180.43,498.76 L180.45,499.46 L180.46,500.20 L180.46,500.95 L180.44,501.72 L180.42,502.50 L180.39,503.31 L180.35,504.13 L180.30,504.96 L180.24,505.81 L180.17,506.68 L180.09,507.55 L180.00,508.44 L179.90,509.34 L179.79,510.24 L179.67,511.16 L179.55,512.08 L179.41,513.01 L179.27,513.94 L179.12,514.88 L178.96,515.83 L178.79,516.78 L178.61,517.73 L178.42,518.68 L178.23,519.64 L178.03,520.59 L177.82,521.54 L177.61,522.50 L177.38,523.45 L177.15,524.39 L176.91,525.34 L176.67,526.27 L176.42,527.21 L176.16,528.13 L175.90,529.05 L175.63,529.97 L175.35,530.87 L175.06,531.79 L185.94,535.21 L186.24,534.25 L186.55,533.25 L186.84,532.24 L187.13,531.23 L187.42,530.21 L187.69,529.19 L187.96,528.16 L188.22,527.13 L188.47,526.10 L188.71,525.06 L188.95,524.02 L189.18,522.98 L189.40,521.94 L189.61,520.90 L189.81,519.86 L190.00,518.82 L190.19,517.78 L190.36,516.75 L190.53,515.72 L190.69,514.69 L190.84,513.67 L190.98,512.65 L191.10,511.64 L191.22,510.63 L191.33,509.64 L191.43,508.64 L191.52,507.66 L191.60,506.69 L191.67,505.72 L191.73,504.76 L191.78,503.82 L191.82,502.88 L191.84,501.96 L191.86,501.05 L191.86,500.15 L191.85,499.26 L191.83,498.38 L191.79,497.52 L191.74,496.67 L191.68,495.88 Z" fill="#fff" stroke="none" stroke-width="2.95"/>
<path d="M180.32,496.72 L180.37,497.41 L180.40,498.07 L180.43,498.76 L180.45,499.46 L180.46,500.20 L180.46,500.95 L180.44,501.72 L180.42,502.50 L180.39,503.31 L180.35,504.13 L180.30,504.96 L180.24,505.81 L180.17,506.68 L180.09,507.55 L180.00,508.44 L179.90,509.34 L179.79,510.24 L179.67,511.16 L179.55,512.08 L179.41,513.01 L179.27,513.94 L179.12,514.88 L178.96,515.83 L178.79,516.78 L178.61,517.73 L178.42,518.68 L178.23,519.64 L178.03,520.59 L177.82,521.54 L177.61,522.50 L177.38,523.45 L177.15,524.39 L176.91,525.34 L176.67,526.27 L176.42,527.21 L176.16,528.13 L175.90,529.05 L175.63,529.97 L175.35,530.87 L175.06,531.79" fill="none" stroke="#231f20" stroke-width="2.95"/>
<path d="M191.68,495.88 L191.74,496.67 L191.79,497.52 L191.83,498.38 L191.85,499.26 L191.86,500.15 L191.86,501.05 L191.84,501.96 L191.82,502.88 L191.78,503.82 L191.73,504.76 L191.67,505.72 L191.60,506.69 L191.52,507.66 L191.43,508.64 L191.33,509.64 L191.22,510.63 L191.10,511.64 L190.98,512.65 L190.84,513.67 L190.69,514.69 L190.53,515.72 L190.36,516.75 L190.19,517.78 L190.00,518.82 L189.81,519.86 L189.61,520.90 L189.40,521.94 L189.18,522.98 L188.95,524.02 L188.71,525.06 L188.47,526.10 L188.22,527.13 L187.96,528.16 L187.69,529.19 L187.42,530.21 L187.13,531.23 L186.84,532.24 L186.55,533.25 L186.24,534.25 L185.94,535.21" fill="none" stroke="#231f20" stroke-width="2.95"/>
<path d="M175.1,531.6 C173.6,537 173.6,544.5 179.5,546.9 C184.5,548.8 189.5,548 193.5,545.5" fill="#fff" stroke="#231f20" stroke-width="2.95"/>
<path d="M192.50,520.50 L193.59,522.19 L194.70,523.87 L195.82,525.53 L196.95,527.17 L198.10,528.79 L199.27,530.40 L200.45,532.00 L201.65,533.57 L202.86,535.13 L204.09,536.67 L205.33,538.20 L206.59,539.71 L207.86,541.21 L209.15,542.68 L210.45,544.14 L211.77,545.59 L213.11,547.02 L214.46,548.43 L215.82,549.82 L217.20,551.20 L218.60,552.56 L220.01,553.91 L221.43,555.24 L222.87,556.55 L224.33,557.84 L225.80,559.12 L227.29,560.39 L228.79,561.63 L230.31,562.86 L231.84,564.08 L233.39,565.27 L234.95,566.45 L236.53,567.62 L238.12,568.76 L239.73,569.89 L241.35,571.01 L242.99,572.11 L244.65,573.19 L246.32,574.25 L248.00,575.30 L242.70,586.00 L240.84,585.08 L239.00,584.15 L237.18,583.19 L235.38,582.21 L233.61,581.21 L231.85,580.19 L230.12,579.15 L228.41,578.09 L226.72,577.00 L225.05,575.90 L223.40,574.77 L221.78,573.63 L220.17,572.46 L218.59,571.27 L217.03,570.06 L215.49,568.83 L213.97,567.58 L212.48,566.31 L211.00,565.01 L209.55,563.70 L208.12,562.36 L206.71,561.01 L205.32,559.63 L203.95,558.23 L202.61,556.81 L201.28,555.37 L199.98,553.91 L198.70,552.43 L197.44,550.92 L196.20,549.40 L194.98,547.85 L193.79,546.29 L192.61,544.70 L191.46,543.09 L190.33,541.46 L189.22,539.81 L188.13,538.14 L187.07,536.45 L186.02,534.73 L185.00,533.00 Z" fill="#fff" stroke="none" stroke-width="2.95"/>
<path d="M192.50,520.50 L193.59,522.19 L194.70,523.87 L195.82,525.53 L196.95,527.17 L198.10,528.79 L199.27,530.40 L200.45,532.00 L201.65,533.57 L202.86,535.13 L204.09,536.67 L205.33,538.20 L206.59,539.71 L207.86,541.21 L209.15,542.68 L210.45,544.14 L211.77,545.59 L213.11,547.02 L214.46,548.43 L215.82,549.82 L217.20,551.20 L218.60,552.56 L220.01,553.91 L221.43,555.24 L222.87,556.55 L224.33,557.84 L225.80,559.12 L227.29,560.39 L228.79,561.63 L230.31,562.86 L231.84,564.08 L233.39,565.27 L234.95,566.45 L236.53,567.62 L238.12,568.76 L239.73,569.89 L241.35,571.01 L242.99,572.11 L244.65,573.19 L246.32,574.25 L248.00,575.30" fill="none" stroke="#231f20" stroke-width="2.95"/>
<path d="M185.00,533.00 L186.02,534.73 L187.07,536.45 L188.13,538.14 L189.22,539.81 L190.33,541.46 L191.46,543.09 L192.61,544.70 L193.79,546.29 L194.98,547.85 L196.20,549.40 L197.44,550.92 L198.70,552.43 L199.98,553.91 L201.28,555.37 L202.61,556.81 L203.95,558.23 L205.32,559.63 L206.71,561.01 L208.12,562.36 L209.55,563.70 L211.00,565.01 L212.48,566.31 L213.97,567.58 L215.49,568.83 L217.03,570.06 L218.59,571.27 L220.17,572.46 L221.78,573.63 L223.40,574.77 L225.05,575.90 L226.72,577.00 L228.41,578.09 L230.12,579.15 L231.85,580.19 L233.61,581.21 L235.38,582.21 L237.18,583.19 L239.00,584.15 L240.84,585.08 L242.70,586.00" fill="none" stroke="#231f20" stroke-width="2.95"/>
</g>
<line x1="354.46" y1="637.40" x2="610.11" y2="784.40" stroke="#231f20" stroke-width="2.95" stroke-linecap="round"/>
<line x1="359.01" y1="653.74" x2="602.87" y2="793.97" stroke="#231f20" stroke-width="2.95" stroke-linecap="round"/>
<line x1="413.51" y1="597.75" x2="674.11" y2="747.60" stroke="#231f20" stroke-width="2.95" stroke-linecap="round"/>
<line x1="406.89" y1="607.67" x2="666.87" y2="757.17" stroke="#231f20" stroke-width="2.95" stroke-linecap="round"/>
<line x1="488.78" y1="567.44" x2="738.11" y2="710.80" stroke="#231f20" stroke-width="2.95" stroke-linecap="round"/>
<line x1="474.88" y1="573.17" x2="730.87" y2="720.37" stroke="#231f20" stroke-width="2.95" stroke-linecap="round"/>
<line x1="553.04" y1="530.78" x2="802.11" y2="674.00" stroke="#231f20" stroke-width="2.95" stroke-linecap="round"/>
<line x1="539.31" y1="536.61" x2="794.87" y2="683.57" stroke="#231f20" stroke-width="2.95" stroke-linecap="round"/>
<line x1="674.17" y1="821.24" x2="744.73" y2="861.82" stroke="#231f20" stroke-width="2.95" stroke-linecap="round"/>
<line x1="665.98" y1="830.26" x2="738.80" y2="872.14" stroke="#231f20" stroke-width="2.95" stroke-linecap="round"/>
<line x1="738.17" y1="784.44" x2="808.73" y2="825.02" stroke="#231f20" stroke-width="2.95" stroke-linecap="round"/>
<line x1="729.98" y1="793.46" x2="802.80" y2="835.34" stroke="#231f20" stroke-width="2.95" stroke-linecap="round"/>
<line x1="802.17" y1="747.64" x2="872.73" y2="788.22" stroke="#231f20" stroke-width="2.95" stroke-linecap="round"/>
<line x1="793.98" y1="756.66" x2="866.80" y2="798.54" stroke="#231f20" stroke-width="2.95" stroke-linecap="round"/>
<line x1="866.17" y1="710.84" x2="936.73" y2="751.42" stroke="#231f20" stroke-width="2.95" stroke-linecap="round"/>
<line x1="857.98" y1="719.86" x2="930.80" y2="761.74" stroke="#231f20" stroke-width="2.95" stroke-linecap="round"/>
<ellipse cx="294.16" cy="609.44" rx="13.50" ry="7.20" transform="rotate(-60.1 294.16 609.44)" fill="#fff" stroke="#231f20" stroke-width="5.60"/>
<path d="M300.39,598.60 L314.04,605.97 L301.08,628.51 L287.93,620.27 Z" fill="#fff" stroke="none" stroke-width="2.95"/>
<line x1="300.39" y1="598.60" x2="314.04" y2="605.97" stroke="#231f20" stroke-width="2.80" stroke-linecap="round"/>
<path d="M289.66,612.64 L297.66,617.64 L297.16,625.64 L292.66,626.64 L285.66,623.14 L284.16,615.64 L286.16,612.64 Z" fill="#231f20" stroke="none" stroke-width="2.95"/>
<path d="M288.62,621.59 L288.15,621.46 L287.71,621.29 L287.30,621.06 L286.92,620.78 L286.56,620.46 L286.24,620.09 L285.96,619.67 L285.70,619.21 L285.49,618.70 L285.31,618.16 L285.17,617.58 L285.07,616.96 L285.01,616.32 L284.98,615.64 L285.00,614.94 L285.06,614.21 L285.15,613.46 L285.28,612.70 L285.45,611.92 L285.66,611.13 L285.91,610.33 L286.19,609.53 L286.50,608.73 L286.85,607.93 L287.23,607.14 L287.63,606.36 L288.07,605.59 L288.53,604.84 L289.02,604.11 L289.53,603.40 L290.05,602.72 L290.60,602.06 L291.16,601.44 L291.73,600.85 L292.32,600.30 L292.91,599.78 L293.51,599.31 L294.11,598.88 L294.71,598.50 L295.31,598.16 L298.39,600.82 L297.82,601.12 L297.24,601.46 L296.66,601.85 L296.09,602.28 L295.53,602.74 L294.97,603.24 L294.43,603.78 L293.90,604.35 L293.38,604.95 L292.89,605.58 L292.41,606.24 L291.96,606.91 L291.53,607.61 L291.12,608.32 L290.75,609.04 L290.40,609.78 L290.09,610.52 L289.80,611.27 L289.56,612.01 L289.34,612.76 L289.16,613.50 L289.02,614.23 L288.91,614.94 L288.84,615.65 L288.81,616.33 L288.82,617.00 L288.86,617.64 L288.95,618.25 L289.07,618.83 L289.22,619.39 L289.41,619.90 L289.64,620.39 L289.90,620.83 L290.20,621.23 L290.52,621.60 L290.88,621.91 L291.26,622.19 L291.68,622.41 L292.12,622.59 L292.58,622.73 Z" fill="#231f20" stroke="none" stroke-width="2.95"/>
<ellipse cx="307.56" cy="617.24" rx="13.00" ry="7.90" transform="rotate(-60.1 307.56 617.24)" fill="#fff" stroke="#231f20" stroke-width="3.20"/>
<ellipse cx="307.76" cy="617.04" rx="11.30" ry="6.50" transform="rotate(-60.1 307.76 617.04)" fill="#fff" stroke="#231f20" stroke-width="2.80"/>
<ellipse cx="358.16" cy="572.64" rx="13.50" ry="7.20" transform="rotate(-60.1 358.16 572.64)" fill="#fff" stroke="#231f20" stroke-width="5.60"/>
<path d="M364.39,561.80 L378.04,569.17 L365.08,591.71 L351.93,583.47 Z" fill="#fff" stroke="none" stroke-width="2.95"/>
<line x1="364.39" y1="561.80" x2="378.04" y2="569.17" stroke="#231f20" stroke-width="2.80" stroke-linecap="round"/>
<path d="M353.66,575.84 L361.66,580.84 L361.16,588.84 L356.66,589.84 L349.66,586.34 L348.16,578.84 L350.16,575.84 Z" fill="#231f20" stroke="none" stroke-width="2.95"/>
<path d="M352.62,584.79 L352.15,584.66 L351.71,584.49 L351.30,584.26 L350.92,583.98 L350.56,583.66 L350.24,583.29 L349.96,582.87 L349.70,582.41 L349.49,581.90 L349.31,581.36 L349.17,580.78 L349.07,580.16 L349.01,579.52 L348.98,578.84 L349.00,578.14 L349.06,577.41 L349.15,576.66 L349.28,575.90 L349.45,575.12 L349.66,574.33 L349.91,573.53 L350.19,572.73 L350.50,571.93 L350.85,571.13 L351.23,570.34 L351.63,569.56 L352.07,568.79 L352.53,568.04 L353.02,567.31 L353.53,566.60 L354.05,565.92 L354.60,565.26 L355.16,564.64 L355.73,564.05 L356.32,563.50 L356.91,562.98 L357.51,562.51 L358.11,562.08 L358.71,561.70 L359.31,561.36 L362.39,564.02 L361.82,564.32 L361.24,564.66 L360.66,565.05 L360.09,565.48 L359.53,565.94 L358.97,566.44 L358.43,566.98 L357.90,567.55 L357.38,568.15 L356.89,568.78 L356.41,569.44 L355.96,570.11 L355.53,570.81 L355.12,571.52 L354.75,572.24 L354.40,572.98 L354.09,573.72 L353.80,574.47 L353.56,575.21 L353.34,575.96 L353.16,576.70 L353.02,577.43 L352.91,578.14 L352.84,578.85 L352.81,579.53 L352.82,580.20 L352.86,580.84 L352.95,581.45 L353.07,582.03 L353.22,582.59 L353.41,583.10 L353.64,583.59 L353.90,584.03 L354.20,584.43 L354.52,584.80 L354.88,585.11 L355.26,585.39 L355.68,585.61 L356.12,585.79 L356.58,585.93 Z" fill="#231f20" stroke="none" stroke-width="2.95"/>
<ellipse cx="371.56" cy="580.44" rx="13.00" ry="7.90" transform="rotate(-60.1 371.56 580.44)" fill="#fff" stroke="#231f20" stroke-width="3.20"/>
<ellipse cx="371.76" cy="580.24" rx="11.30" ry="6.50" transform="rotate(-60.1 371.76 580.24)" fill="#fff" stroke="#231f20" stroke-width="2.80"/>
<ellipse cx="422.16" cy="535.84" rx="13.50" ry="7.20" transform="rotate(-60.1 422.16 535.84)" fill="#fff" stroke="#231f20" stroke-width="5.60"/>
<path d="M428.39,525.00 L442.04,532.37 L429.08,554.91 L415.93,546.67 Z" fill="#fff" stroke="none" stroke-width="2.95"/>
<line x1="428.39" y1="525.00" x2="442.04" y2="532.37" stroke="#231f20" stroke-width="2.80" stroke-linecap="round"/>
<path d="M417.66,539.04 L425.66,544.04 L425.16,552.04 L420.66,553.04 L413.66,549.54 L412.16,542.04 L414.16,539.04 Z" fill="#231f20" stroke="none" stroke-width="2.95"/>
<path d="M416.62,547.99 L416.15,547.86 L415.71,547.69 L415.30,547.46 L414.92,547.18 L414.56,546.86 L414.24,546.49 L413.96,546.07 L413.70,545.61 L413.49,545.10 L413.31,544.56 L413.17,543.98 L413.07,543.36 L413.01,542.72 L412.98,542.04 L413.00,541.34 L413.06,540.61 L413.15,539.86 L413.28,539.10 L413.45,538.32 L413.66,537.53 L413.91,536.73 L414.19,535.93 L414.50,535.13 L414.85,534.33 L415.23,533.54 L415.63,532.76 L416.07,531.99 L416.53,531.24 L417.02,530.51 L417.53,529.80 L418.05,529.12 L418.60,528.46 L419.16,527.84 L419.73,527.25 L420.32,526.70 L420.91,526.18 L421.51,525.71 L422.11,525.28 L422.71,524.90 L423.31,524.56 L426.39,527.22 L425.82,527.52 L425.24,527.86 L424.66,528.25 L424.09,528.68 L423.53,529.14 L422.97,529.64 L422.43,530.18 L421.90,530.75 L421.38,531.35 L420.89,531.98 L420.41,532.64 L419.96,533.31 L419.53,534.01 L419.12,534.72 L418.75,535.44 L418.40,536.18 L418.09,536.92 L417.80,537.67 L417.56,538.41 L417.34,539.16 L417.16,539.90 L417.02,540.63 L416.91,541.34 L416.84,542.05 L416.81,542.73 L416.82,543.40 L416.86,544.04 L416.95,544.65 L417.07,545.23 L417.22,545.79 L417.41,546.30 L417.64,546.79 L417.90,547.23 L418.20,547.63 L418.52,548.00 L418.88,548.31 L419.26,548.59 L419.68,548.81 L420.12,548.99 L420.58,549.13 Z" fill="#231f20" stroke="none" stroke-width="2.95"/>
<ellipse cx="435.56" cy="543.64" rx="13.00" ry="7.90" transform="rotate(-60.1 435.56 543.64)" fill="#fff" stroke="#231f20" stroke-width="3.20"/>
<ellipse cx="435.76" cy="543.44" rx="11.30" ry="6.50" transform="rotate(-60.1 435.76 543.44)" fill="#fff" stroke="#231f20" stroke-width="2.80"/>
<ellipse cx="486.16" cy="499.04" rx="13.50" ry="7.20" transform="rotate(-60.1 486.16 499.04)" fill="#fff" stroke="#231f20" stroke-width="5.60"/>
<path d="M492.39,488.20 L506.04,495.57 L493.08,518.11 L479.93,509.87 Z" fill="#fff" stroke="none" stroke-width="2.95"/>
<line x1="492.39" y1="488.20" x2="506.04" y2="495.57" stroke="#231f20" stroke-width="2.80" stroke-linecap="round"/>
<path d="M481.66,502.24 L489.66,507.24 L489.16,515.24 L484.66,516.24 L477.66,512.74 L476.16,505.24 L478.16,502.24 Z" fill="#231f20" stroke="none" stroke-width="2.95"/>
<path d="M480.62,511.19 L480.15,511.06 L479.71,510.89 L479.30,510.66 L478.92,510.38 L478.56,510.06 L478.24,509.69 L477.96,509.27 L477.70,508.81 L477.49,508.30 L477.31,507.76 L477.17,507.18 L477.07,506.56 L477.01,505.92 L476.98,505.24 L477.00,504.54 L477.06,503.81 L477.15,503.06 L477.28,502.30 L477.45,501.52 L477.66,500.73 L477.91,499.93 L478.19,499.13 L478.50,498.33 L478.85,497.53 L479.23,496.74 L479.63,495.96 L480.07,495.19 L480.53,494.44 L481.02,493.71 L481.53,493.00 L482.05,492.32 L482.60,491.66 L483.16,491.04 L483.73,490.45 L484.32,489.90 L484.91,489.38 L485.51,488.91 L486.11,488.48 L486.71,488.10 L487.31,487.76 L490.39,490.42 L489.82,490.72 L489.24,491.06 L488.66,491.45 L488.09,491.88 L487.53,492.34 L486.97,492.84 L486.43,493.38 L485.90,493.95 L485.38,494.55 L484.89,495.18 L484.41,495.84 L483.96,496.51 L483.53,497.21 L483.12,497.92 L482.75,498.64 L482.40,499.38 L482.09,500.12 L481.80,500.87 L481.56,501.61 L481.34,502.36 L481.16,503.10 L481.02,503.83 L480.91,504.54 L480.84,505.25 L480.81,505.93 L480.82,506.60 L480.86,507.24 L480.95,507.85 L481.07,508.43 L481.22,508.99 L481.41,509.50 L481.64,509.99 L481.90,510.43 L482.20,510.83 L482.52,511.20 L482.88,511.51 L483.26,511.79 L483.68,512.01 L484.12,512.19 L484.58,512.33 Z" fill="#231f20" stroke="none" stroke-width="2.95"/>
<ellipse cx="499.56" cy="506.84" rx="13.00" ry="7.90" transform="rotate(-60.1 499.56 506.84)" fill="#fff" stroke="#231f20" stroke-width="3.20"/>
<ellipse cx="499.76" cy="506.64" rx="11.30" ry="6.50" transform="rotate(-60.1 499.76 506.64)" fill="#fff" stroke="#231f20" stroke-width="2.80"/>
<ellipse cx="628.32" cy="800.18" rx="24.80" ry="16.00" transform="rotate(-58.0 628.32 800.18)" fill="#fff" stroke="#231f20" stroke-width="2.70"/>
<path d="M640.68,778.68 L652.83,785.33 L627.01,830.23 L615.96,821.68 Z" fill="#fff" stroke="none" stroke-width="2.95"/>
<line x1="640.68" y1="778.68" x2="652.83" y2="785.33" stroke="#231f20" stroke-width="2.70" stroke-linecap="round"/>
<line x1="615.96" y1="821.68" x2="627.01" y2="830.23" stroke="#231f20" stroke-width="2.70" stroke-linecap="round"/>
<path d="M616.45,821.94 L616.14,821.78 L615.84,821.61 L615.54,821.42 L615.25,821.23 L614.97,821.03 L614.69,820.81 L614.41,820.59 L614.15,820.36 L613.89,820.12 L613.64,819.86 L613.39,819.60 L613.16,819.33 L612.93,819.05 L612.70,818.76 L612.49,818.47 L612.28,818.16 L612.08,817.85 L611.88,817.52 L611.70,817.19 L611.52,816.85 L611.35,816.51 L611.19,816.15 L611.04,815.79 L610.89,815.42 L610.76,815.04 L610.63,814.66 L610.51,814.26 L610.40,813.87 L610.30,813.46 L610.20,813.05 L610.12,812.63 L610.04,812.21 L609.97,811.78 L609.91,811.35 L609.86,810.91 L609.82,810.46 L609.79,810.01 L609.76,809.56 L609.75,809.10 L609.74,808.64 L620.33,816.50 L620.34,816.99 L620.36,817.47 L620.39,817.95 L620.43,818.42 L620.48,818.89 L620.53,819.35 L620.60,819.80 L620.67,820.25 L620.76,820.70 L620.85,821.14 L620.96,821.57 L621.07,821.99 L621.19,822.41 L621.32,822.82 L621.46,823.23 L621.60,823.62 L621.76,824.01 L621.92,824.40 L622.10,824.77 L622.28,825.14 L622.47,825.49 L622.67,825.84 L622.87,826.18 L623.09,826.51 L623.31,826.84 L623.54,827.15 L623.78,827.45 L624.03,827.75 L624.28,828.04 L624.54,828.31 L624.81,828.58 L625.09,828.83 L625.37,829.08 L625.66,829.32 L625.95,829.54 L626.26,829.76 L626.57,829.96 L626.88,830.16 L627.20,830.34 L627.53,830.51 Z" fill="#231f20" stroke="#231f20" stroke-width="1.00"/>
<line x1="612.12" y1="816.79" x2="618.96" y2="822.80" stroke="#fff" stroke-width="0.9"/>
<ellipse cx="639.92" cy="807.78" rx="25.90" ry="17.00" transform="rotate(-61.0 639.92 807.78)" fill="#fff" stroke="#231f20" stroke-width="2.70"/>
<path d="M627.01,830.23 L625.89,829.50 L624.86,828.63 L623.93,827.63 L623.09,826.51 L622.35,825.28 L621.73,823.94 L621.21,822.50 L620.81,820.96 L620.53,819.35 L620.37,817.66 L620.33,815.92 L620.41,814.12 L620.61,812.28 L620.93,810.42 L621.37,808.54 L621.92,806.66 L622.58,804.78 L623.35,802.92 L624.22,801.09 L625.18,799.30 L626.24,797.57 L627.39,795.90 L628.61,794.30 L629.90,792.78 L631.25,791.36 L632.65,790.03 L634.10,788.82 L635.59,787.73 L637.10,786.75 L638.63,785.91 L640.17,785.20 L641.70,784.63 L643.23,784.21 L644.74,783.93 L646.21,783.79 L647.65,783.81 L649.04,783.97 L650.37,784.28 L651.64,784.73 L652.83,785.33 L652.83,785.33 L651.95,784.91 L650.99,784.64 L649.97,784.50 L648.88,784.51 L647.74,784.67 L646.55,784.97 L645.31,785.41 L644.05,785.98 L642.76,786.69 L641.45,787.53 L640.13,788.50 L638.81,789.58 L637.50,790.78 L636.21,792.08 L634.93,793.48 L633.69,794.96 L632.48,796.53 L631.32,798.16 L630.22,799.85 L629.17,801.60 L628.19,803.38 L627.28,805.19 L626.46,807.01 L625.71,808.84 L625.05,810.66 L624.48,812.46 L624.01,814.24 L623.64,815.98 L623.36,817.66 L623.19,819.28 L623.12,820.84 L623.16,822.31 L623.30,823.69 L623.54,824.98 L623.88,826.16 L624.32,827.22 L624.86,828.17 L625.49,828.99 L626.21,829.68 L627.01,830.23 Z" fill="#231f20" stroke="none" stroke-width="2.95"/>
<ellipse cx="641.02" cy="808.98" rx="16.70" ry="11.00" transform="rotate(-63.0 641.02 808.98)" fill="#fff" stroke="#231f20" stroke-width="2.80"/>
<ellipse cx="692.32" cy="763.38" rx="24.80" ry="16.00" transform="rotate(-58.0 692.32 763.38)" fill="#fff" stroke="#231f20" stroke-width="2.70"/>
<path d="M704.68,741.88 L716.83,748.53 L691.01,793.43 L679.96,784.88 Z" fill="#fff" stroke="none" stroke-width="2.95"/>
<line x1="704.68" y1="741.88" x2="716.83" y2="748.53" stroke="#231f20" stroke-width="2.70" stroke-linecap="round"/>
<line x1="679.96" y1="784.88" x2="691.01" y2="793.43" stroke="#231f20" stroke-width="2.70" stroke-linecap="round"/>
<path d="M680.45,785.14 L680.14,784.98 L679.84,784.81 L679.54,784.62 L679.25,784.43 L678.97,784.23 L678.69,784.01 L678.41,783.79 L678.15,783.56 L677.89,783.32 L677.64,783.06 L677.39,782.80 L677.16,782.53 L676.93,782.25 L676.70,781.96 L676.49,781.67 L676.28,781.36 L676.08,781.05 L675.88,780.72 L675.70,780.39 L675.52,780.05 L675.35,779.71 L675.19,779.35 L675.04,778.99 L674.89,778.62 L674.76,778.24 L674.63,777.86 L674.51,777.46 L674.40,777.07 L674.30,776.66 L674.20,776.25 L674.12,775.83 L674.04,775.41 L673.97,774.98 L673.91,774.55 L673.86,774.11 L673.82,773.66 L673.79,773.21 L673.76,772.76 L673.75,772.30 L673.74,771.84 L684.33,779.70 L684.34,780.19 L684.36,780.67 L684.39,781.15 L684.43,781.62 L684.48,782.09 L684.53,782.55 L684.60,783.00 L684.67,783.45 L684.76,783.90 L684.85,784.34 L684.96,784.77 L685.07,785.19 L685.19,785.61 L685.32,786.02 L685.46,786.43 L685.60,786.82 L685.76,787.21 L685.92,787.60 L686.10,787.97 L686.28,788.34 L686.47,788.69 L686.67,789.04 L686.87,789.38 L687.09,789.71 L687.31,790.04 L687.54,790.35 L687.78,790.65 L688.03,790.95 L688.28,791.24 L688.54,791.51 L688.81,791.78 L689.09,792.03 L689.37,792.28 L689.66,792.52 L689.95,792.74 L690.26,792.96 L690.57,793.16 L690.88,793.36 L691.20,793.54 L691.53,793.71 Z" fill="#231f20" stroke="#231f20" stroke-width="1.00"/>
<line x1="676.12" y1="779.99" x2="682.96" y2="786.00" stroke="#fff" stroke-width="0.9"/>
<ellipse cx="703.92" cy="770.98" rx="25.90" ry="17.00" transform="rotate(-61.0 703.92 770.98)" fill="#fff" stroke="#231f20" stroke-width="2.70"/>
<path d="M691.01,793.43 L689.89,792.70 L688.86,791.83 L687.93,790.83 L687.09,789.71 L686.35,788.48 L685.73,787.14 L685.21,785.70 L684.81,784.16 L684.53,782.55 L684.37,780.86 L684.33,779.12 L684.41,777.32 L684.61,775.48 L684.93,773.62 L685.37,771.74 L685.92,769.86 L686.58,767.98 L687.35,766.12 L688.22,764.29 L689.18,762.50 L690.24,760.77 L691.39,759.10 L692.61,757.50 L693.90,755.98 L695.25,754.56 L696.65,753.23 L698.10,752.02 L699.59,750.93 L701.10,749.95 L702.63,749.11 L704.17,748.40 L705.70,747.83 L707.23,747.41 L708.74,747.13 L710.21,746.99 L711.65,747.01 L713.04,747.17 L714.37,747.48 L715.64,747.93 L716.83,748.53 L716.83,748.53 L715.95,748.11 L714.99,747.84 L713.97,747.70 L712.88,747.71 L711.74,747.87 L710.55,748.17 L709.31,748.61 L708.05,749.18 L706.76,749.89 L705.45,750.73 L704.13,751.70 L702.81,752.78 L701.50,753.98 L700.21,755.28 L698.93,756.68 L697.69,758.16 L696.48,759.73 L695.32,761.36 L694.22,763.05 L693.17,764.80 L692.19,766.58 L691.28,768.39 L690.46,770.21 L689.71,772.04 L689.05,773.86 L688.48,775.66 L688.01,777.44 L687.64,779.18 L687.36,780.86 L687.19,782.48 L687.12,784.04 L687.16,785.51 L687.30,786.89 L687.54,788.18 L687.88,789.36 L688.32,790.42 L688.86,791.37 L689.49,792.19 L690.21,792.88 L691.01,793.43 Z" fill="#231f20" stroke="none" stroke-width="2.95"/>
<ellipse cx="705.02" cy="772.18" rx="16.70" ry="11.00" transform="rotate(-63.0 705.02 772.18)" fill="#fff" stroke="#231f20" stroke-width="2.80"/>
<ellipse cx="756.32" cy="726.58" rx="24.80" ry="16.00" transform="rotate(-58.0 756.32 726.58)" fill="#fff" stroke="#231f20" stroke-width="2.70"/>
<path d="M768.68,705.08 L780.83,711.73 L755.01,756.63 L743.96,748.08 Z" fill="#fff" stroke="none" stroke-width="2.95"/>
<line x1="768.68" y1="705.08" x2="780.83" y2="711.73" stroke="#231f20" stroke-width="2.70" stroke-linecap="round"/>
<line x1="743.96" y1="748.08" x2="755.01" y2="756.63" stroke="#231f20" stroke-width="2.70" stroke-linecap="round"/>
<path d="M744.45,748.34 L744.14,748.18 L743.84,748.01 L743.54,747.82 L743.25,747.63 L742.97,747.43 L742.69,747.21 L742.41,746.99 L742.15,746.76 L741.89,746.52 L741.64,746.26 L741.39,746.00 L741.16,745.73 L740.93,745.45 L740.70,745.16 L740.49,744.87 L740.28,744.56 L740.08,744.25 L739.88,743.92 L739.70,743.59 L739.52,743.25 L739.35,742.91 L739.19,742.55 L739.04,742.19 L738.89,741.82 L738.76,741.44 L738.63,741.06 L738.51,740.66 L738.40,740.27 L738.30,739.86 L738.20,739.45 L738.12,739.03 L738.04,738.61 L737.97,738.18 L737.91,737.75 L737.86,737.31 L737.82,736.86 L737.79,736.41 L737.76,735.96 L737.75,735.50 L737.74,735.04 L748.33,742.90 L748.34,743.39 L748.36,743.87 L748.39,744.35 L748.43,744.82 L748.48,745.29 L748.53,745.75 L748.60,746.20 L748.67,746.65 L748.76,747.10 L748.85,747.54 L748.96,747.97 L749.07,748.39 L749.19,748.81 L749.32,749.22 L749.46,749.63 L749.60,750.02 L749.76,750.41 L749.92,750.80 L750.10,751.17 L750.28,751.54 L750.47,751.89 L750.67,752.24 L750.87,752.58 L751.09,752.91 L751.31,753.24 L751.54,753.55 L751.78,753.85 L752.03,754.15 L752.28,754.44 L752.54,754.71 L752.81,754.98 L753.09,755.23 L753.37,755.48 L753.66,755.72 L753.95,755.94 L754.26,756.16 L754.57,756.36 L754.88,756.56 L755.20,756.74 L755.53,756.91 Z" fill="#231f20" stroke="#231f20" stroke-width="1.00"/>
<line x1="740.12" y1="743.19" x2="746.96" y2="749.20" stroke="#fff" stroke-width="0.9"/>
<ellipse cx="767.92" cy="734.18" rx="25.90" ry="17.00" transform="rotate(-61.0 767.92 734.18)" fill="#fff" stroke="#231f20" stroke-width="2.70"/>
<path d="M755.01,756.63 L753.89,755.90 L752.86,755.03 L751.93,754.03 L751.09,752.91 L750.35,751.68 L749.73,750.34 L749.21,748.90 L748.81,747.36 L748.53,745.75 L748.37,744.06 L748.33,742.32 L748.41,740.52 L748.61,738.68 L748.93,736.82 L749.37,734.94 L749.92,733.06 L750.58,731.18 L751.35,729.32 L752.22,727.49 L753.18,725.70 L754.24,723.97 L755.39,722.30 L756.61,720.70 L757.90,719.18 L759.25,717.76 L760.65,716.43 L762.10,715.22 L763.59,714.13 L765.10,713.15 L766.63,712.31 L768.17,711.60 L769.70,711.03 L771.23,710.61 L772.74,710.33 L774.21,710.19 L775.65,710.21 L777.04,710.37 L778.37,710.68 L779.64,711.13 L780.83,711.73 L780.83,711.73 L779.95,711.31 L778.99,711.04 L777.97,710.90 L776.88,710.91 L775.74,711.07 L774.55,711.37 L773.31,711.81 L772.05,712.38 L770.76,713.09 L769.45,713.93 L768.13,714.90 L766.81,715.98 L765.50,717.18 L764.21,718.48 L762.93,719.88 L761.69,721.36 L760.48,722.93 L759.32,724.56 L758.22,726.25 L757.17,728.00 L756.19,729.78 L755.28,731.59 L754.46,733.41 L753.71,735.24 L753.05,737.06 L752.48,738.86 L752.01,740.64 L751.64,742.38 L751.36,744.06 L751.19,745.68 L751.12,747.24 L751.16,748.71 L751.30,750.09 L751.54,751.38 L751.88,752.56 L752.32,753.62 L752.86,754.57 L753.49,755.39 L754.21,756.08 L755.01,756.63 Z" fill="#231f20" stroke="none" stroke-width="2.95"/>
<ellipse cx="769.02" cy="735.38" rx="16.70" ry="11.00" transform="rotate(-63.0 769.02 735.38)" fill="#fff" stroke="#231f20" stroke-width="2.80"/>
<ellipse cx="820.32" cy="689.78" rx="24.80" ry="16.00" transform="rotate(-58.0 820.32 689.78)" fill="#fff" stroke="#231f20" stroke-width="2.70"/>
<path d="M832.68,668.28 L844.83,674.93 L819.01,719.83 L807.96,711.28 Z" fill="#fff" stroke="none" stroke-width="2.95"/>
<line x1="832.68" y1="668.28" x2="844.83" y2="674.93" stroke="#231f20" stroke-width="2.70" stroke-linecap="round"/>
<line x1="807.96" y1="711.28" x2="819.01" y2="719.83" stroke="#231f20" stroke-width="2.70" stroke-linecap="round"/>
<path d="M808.45,711.54 L808.14,711.38 L807.84,711.21 L807.54,711.02 L807.25,710.83 L806.97,710.63 L806.69,710.41 L806.41,710.19 L806.15,709.96 L805.89,709.72 L805.64,709.46 L805.39,709.20 L805.16,708.93 L804.93,708.65 L804.70,708.36 L804.49,708.07 L804.28,707.76 L804.08,707.45 L803.88,707.12 L803.70,706.79 L803.52,706.45 L803.35,706.11 L803.19,705.75 L803.04,705.39 L802.89,705.02 L802.76,704.64 L802.63,704.26 L802.51,703.86 L802.40,703.47 L802.30,703.06 L802.20,702.65 L802.12,702.23 L802.04,701.81 L801.97,701.38 L801.91,700.95 L801.86,700.51 L801.82,700.06 L801.79,699.61 L801.76,699.16 L801.75,698.70 L801.74,698.24 L812.33,706.10 L812.34,706.59 L812.36,707.07 L812.39,707.55 L812.43,708.02 L812.48,708.49 L812.53,708.95 L812.60,709.40 L812.67,709.85 L812.76,710.30 L812.85,710.74 L812.96,711.17 L813.07,711.59 L813.19,712.01 L813.32,712.42 L813.46,712.83 L813.60,713.22 L813.76,713.61 L813.92,714.00 L814.10,714.37 L814.28,714.74 L814.47,715.09 L814.67,715.44 L814.87,715.78 L815.09,716.11 L815.31,716.44 L815.54,716.75 L815.78,717.05 L816.03,717.35 L816.28,717.64 L816.54,717.91 L816.81,718.18 L817.09,718.43 L817.37,718.68 L817.66,718.92 L817.95,719.14 L818.26,719.36 L818.57,719.56 L818.88,719.76 L819.20,719.94 L819.53,720.11 Z" fill="#231f20" stroke="#231f20" stroke-width="1.00"/>
<line x1="804.12" y1="706.39" x2="810.96" y2="712.40" stroke="#fff" stroke-width="0.9"/>
<ellipse cx="831.92" cy="697.38" rx="25.90" ry="17.00" transform="rotate(-61.0 831.92 697.38)" fill="#fff" stroke="#231f20" stroke-width="2.70"/>
<path d="M819.01,719.83 L817.89,719.10 L816.86,718.23 L815.93,717.23 L815.09,716.11 L814.35,714.88 L813.73,713.54 L813.21,712.10 L812.81,710.56 L812.53,708.95 L812.37,707.26 L812.33,705.52 L812.41,703.72 L812.61,701.88 L812.93,700.02 L813.37,698.14 L813.92,696.26 L814.58,694.38 L815.35,692.52 L816.22,690.69 L817.18,688.90 L818.24,687.17 L819.39,685.50 L820.61,683.90 L821.90,682.38 L823.25,680.96 L824.65,679.63 L826.10,678.42 L827.59,677.33 L829.10,676.35 L830.63,675.51 L832.17,674.80 L833.70,674.23 L835.23,673.81 L836.74,673.53 L838.21,673.39 L839.65,673.41 L841.04,673.57 L842.37,673.88 L843.64,674.33 L844.83,674.93 L844.83,674.93 L843.95,674.51 L842.99,674.24 L841.97,674.10 L840.88,674.11 L839.74,674.27 L838.55,674.57 L837.31,675.01 L836.05,675.58 L834.76,676.29 L833.45,677.13 L832.13,678.10 L830.81,679.18 L829.50,680.38 L828.21,681.68 L826.93,683.08 L825.69,684.56 L824.48,686.13 L823.32,687.76 L822.22,689.45 L821.17,691.20 L820.19,692.98 L819.28,694.79 L818.46,696.61 L817.71,698.44 L817.05,700.26 L816.48,702.06 L816.01,703.84 L815.64,705.58 L815.36,707.26 L815.19,708.88 L815.12,710.44 L815.16,711.91 L815.30,713.29 L815.54,714.58 L815.88,715.76 L816.32,716.82 L816.86,717.77 L817.49,718.59 L818.21,719.28 L819.01,719.83 Z" fill="#231f20" stroke="none" stroke-width="2.95"/>
<ellipse cx="833.02" cy="698.58" rx="16.70" ry="11.00" transform="rotate(-63.0 833.02 698.58)" fill="#fff" stroke="#231f20" stroke-width="2.80"/>
<ellipse cx="742.74" cy="868.29" rx="13.00" ry="7.80" transform="rotate(-60.1 742.74 868.29)" fill="#fff" stroke="#231f20" stroke-width="2.50"/>
<path d="M749.23,857.02 L753.13,859.26 L740.17,881.80 L736.26,879.56 Z" fill="#fff" stroke="none" stroke-width="2.95"/>
<line x1="749.23" y1="857.02" x2="753.13" y2="859.26" stroke="#231f20" stroke-width="2.50" stroke-linecap="round"/>
<line x1="736.26" y1="879.56" x2="740.17" y2="881.80" stroke="#231f20" stroke-width="2.50" stroke-linecap="round"/>
<ellipse cx="746.65" cy="870.53" rx="13.00" ry="7.80" transform="rotate(-60.1 746.65 870.53)" fill="#fff" stroke="#231f20" stroke-width="2.50"/>
<ellipse cx="746.65" cy="870.53" rx="12.40" ry="7.44" transform="rotate(-60.1 746.65 870.53)" fill="#fff" stroke="#231f20" stroke-width="2.30"/>
<path d="M752.83,859.78 L755.86,861.53 L743.50,883.03 L740.46,881.28 Z" fill="#fff" stroke="none" stroke-width="2.95"/>
<line x1="752.83" y1="859.78" x2="755.86" y2="861.53" stroke="#231f20" stroke-width="2.30" stroke-linecap="round"/>
<line x1="740.46" y1="881.28" x2="743.50" y2="883.03" stroke="#231f20" stroke-width="2.30" stroke-linecap="round"/>
<ellipse cx="749.68" cy="872.28" rx="12.40" ry="7.44" transform="rotate(-60.1 749.68 872.28)" fill="#fff" stroke="#231f20" stroke-width="2.30"/>
<ellipse cx="753.58" cy="874.52" rx="25.00" ry="15.00" transform="rotate(-60.1 753.58 874.52)" fill="#fff" stroke="#231f20" stroke-width="2.70"/>
<path d="M766.04,852.85 L775.58,858.33 L750.65,901.68 L741.12,896.19 Z" fill="#fff" stroke="none" stroke-width="2.95"/>
<line x1="766.04" y1="852.85" x2="775.58" y2="858.33" stroke="#231f20" stroke-width="2.70" stroke-linecap="round"/>
<line x1="741.12" y1="896.19" x2="750.65" y2="901.68" stroke="#231f20" stroke-width="2.70" stroke-linecap="round"/>
<ellipse cx="763.12" cy="880.00" rx="25.00" ry="15.00" transform="rotate(-60.1 763.12 880.00)" fill="#fff" stroke="#231f20" stroke-width="2.70"/>
<ellipse cx="763.55" cy="880.25" rx="14.00" ry="8.40" transform="rotate(-60.1 763.55 880.25)" fill="#fff" stroke="#231f20" stroke-width="2.70"/>
<path d="M770.53,868.12 L800.87,885.57 L786.91,909.84 L756.57,892.39 Z" fill="#fff" stroke="none" stroke-width="2.95"/>
<line x1="770.53" y1="868.12" x2="800.87" y2="885.57" stroke="#231f20" stroke-width="2.70" stroke-linecap="round"/>
<line x1="756.57" y1="892.39" x2="786.91" y2="909.84" stroke="#231f20" stroke-width="2.70" stroke-linecap="round"/>
<ellipse cx="793.89" cy="897.70" rx="27.00" ry="16.20" transform="rotate(-60.1 793.89 897.70)" fill="#fff" stroke="#231f20" stroke-width="2.70"/>
<path d="M807.35,874.30 L841.77,894.09 L814.85,940.90 L780.43,921.11 Z" fill="#fff" stroke="none" stroke-width="2.95"/>
<line x1="807.35" y1="874.30" x2="841.77" y2="894.09" stroke="#231f20" stroke-width="2.70" stroke-linecap="round"/>
<line x1="780.43" y1="921.11" x2="814.85" y2="940.90" stroke="#231f20" stroke-width="2.70" stroke-linecap="round"/>
<path d="M807.22,936.51 L806.31,935.89 L805.49,935.13 L804.76,934.24 L804.13,933.21 L803.60,932.06 L803.18,930.79 L802.86,929.42 L802.66,927.94 L802.56,926.37 L802.58,924.72 L802.71,923.00 L802.95,921.22 L803.30,919.38 L803.75,917.51 L804.32,915.61 L804.98,913.70 L805.74,911.78 L806.59,909.87 L807.52,907.98 L808.54,906.13 L809.64,904.31 L810.80,902.55 L812.02,900.86 L813.30,899.24 L814.62,897.70 L815.98,896.26 L817.36,894.93 L818.77,893.70 L820.19,892.60 L821.61,891.62 L823.03,890.77 L824.43,890.07 L825.81,889.50 L827.16,889.08 L828.47,888.81 L829.73,888.69 L830.93,888.72 L832.07,888.90 L833.14,889.22 L834.14,889.70" fill="none" stroke="#231f20" stroke-width="2.60"/>
<path d="M811.12,938.75 L810.21,938.14 L809.39,937.38 L808.66,936.48 L808.03,935.45 L807.50,934.30 L807.08,933.04 L806.76,931.66 L806.56,930.18 L806.46,928.61 L806.48,926.96 L806.61,925.24 L806.85,923.46 L807.20,921.63 L807.66,919.76 L808.22,917.86 L808.88,915.94 L809.64,914.03 L810.49,912.12 L811.43,910.23 L812.44,908.37 L813.54,906.55 L814.70,904.79 L815.92,903.10 L817.20,901.48 L818.52,899.94 L819.88,898.50 L821.26,897.17 L822.67,895.94 L824.09,894.84 L825.52,893.86 L826.93,893.02 L828.34,892.31 L829.71,891.74 L831.06,891.33 L832.37,891.05 L833.63,890.93 L834.83,890.96 L835.98,891.14 L837.05,891.47 L838.04,891.94" fill="none" stroke="#231f20" stroke-width="2.50"/>
<path d="M812.59,939.60 L811.68,938.98 L810.86,938.22 L810.13,937.33 L809.50,936.30 L808.97,935.15 L808.55,933.88 L808.24,932.51 L808.03,931.03 L807.94,929.46 L807.95,927.81 L808.08,926.09 L808.32,924.31 L808.67,922.48 L809.13,920.60 L809.69,918.71 L810.35,916.79 L811.11,914.87 L811.96,912.96 L812.90,911.08 L813.92,909.22 L815.01,907.40 L816.17,905.64 L817.39,903.95 L818.67,902.33 L819.99,900.79 L821.35,899.35 L822.74,898.02 L824.15,896.79 L825.57,895.69 L826.99,894.71 L828.41,893.87 L829.81,893.16 L831.19,892.59 L832.54,892.17 L833.84,891.90 L835.10,891.78 L836.31,891.81 L837.45,891.99 L838.52,892.31 L839.51,892.79" fill="none" stroke="#231f20" stroke-width="1.00"/>
<ellipse cx="828.56" cy="917.06" rx="26.60" ry="13.80" transform="rotate(-60.1 828.56 917.06)" fill="#fff" stroke="#231f20" stroke-width="2.70"/>
<ellipse cx="806.74" cy="831.49" rx="13.00" ry="7.80" transform="rotate(-60.1 806.74 831.49)" fill="#fff" stroke="#231f20" stroke-width="2.50"/>
<path d="M813.23,820.22 L817.13,822.46 L804.17,845.00 L800.26,842.76 Z" fill="#fff" stroke="none" stroke-width="2.95"/>
<line x1="813.23" y1="820.22" x2="817.13" y2="822.46" stroke="#231f20" stroke-width="2.50" stroke-linecap="round"/>
<line x1="800.26" y1="842.76" x2="804.17" y2="845.00" stroke="#231f20" stroke-width="2.50" stroke-linecap="round"/>
<ellipse cx="810.65" cy="833.73" rx="13.00" ry="7.80" transform="rotate(-60.1 810.65 833.73)" fill="#fff" stroke="#231f20" stroke-width="2.50"/>
<ellipse cx="810.65" cy="833.73" rx="12.40" ry="7.44" transform="rotate(-60.1 810.65 833.73)" fill="#fff" stroke="#231f20" stroke-width="2.30"/>
<path d="M816.83,822.98 L819.86,824.73 L807.50,846.23 L804.46,844.48 Z" fill="#fff" stroke="none" stroke-width="2.95"/>
<line x1="816.83" y1="822.98" x2="819.86" y2="824.73" stroke="#231f20" stroke-width="2.30" stroke-linecap="round"/>
<line x1="804.46" y1="844.48" x2="807.50" y2="846.23" stroke="#231f20" stroke-width="2.30" stroke-linecap="round"/>
<ellipse cx="813.68" cy="835.48" rx="12.40" ry="7.44" transform="rotate(-60.1 813.68 835.48)" fill="#fff" stroke="#231f20" stroke-width="2.30"/>
<ellipse cx="817.58" cy="837.72" rx="25.00" ry="15.00" transform="rotate(-60.1 817.58 837.72)" fill="#fff" stroke="#231f20" stroke-width="2.70"/>
<path d="M830.04,816.05 L839.58,821.53 L814.65,864.88 L805.12,859.39 Z" fill="#fff" stroke="none" stroke-width="2.95"/>
<line x1="830.04" y1="816.05" x2="839.58" y2="821.53" stroke="#231f20" stroke-width="2.70" stroke-linecap="round"/>
<line x1="805.12" y1="859.39" x2="814.65" y2="864.88" stroke="#231f20" stroke-width="2.70" stroke-linecap="round"/>
<ellipse cx="827.12" cy="843.21" rx="25.00" ry="15.00" transform="rotate(-60.1 827.12 843.21)" fill="#fff" stroke="#231f20" stroke-width="2.70"/>
<ellipse cx="827.55" cy="843.45" rx="14.00" ry="8.40" transform="rotate(-60.1 827.55 843.45)" fill="#fff" stroke="#231f20" stroke-width="2.70"/>
<path d="M834.53,831.32 L864.87,848.77 L850.91,873.04 L820.57,855.59 Z" fill="#fff" stroke="none" stroke-width="2.95"/>
<line x1="834.53" y1="831.32" x2="864.87" y2="848.77" stroke="#231f20" stroke-width="2.70" stroke-linecap="round"/>
<line x1="820.57" y1="855.59" x2="850.91" y2="873.04" stroke="#231f20" stroke-width="2.70" stroke-linecap="round"/>
<ellipse cx="857.89" cy="860.90" rx="27.00" ry="16.20" transform="rotate(-60.1 857.89 860.90)" fill="#fff" stroke="#231f20" stroke-width="2.70"/>
<path d="M871.35,837.50 L905.77,857.29 L878.85,904.10 L844.43,884.31 Z" fill="#fff" stroke="none" stroke-width="2.95"/>
<line x1="871.35" y1="837.50" x2="905.77" y2="857.29" stroke="#231f20" stroke-width="2.70" stroke-linecap="round"/>
<line x1="844.43" y1="884.31" x2="878.85" y2="904.10" stroke="#231f20" stroke-width="2.70" stroke-linecap="round"/>
<path d="M871.22,899.71 L870.31,899.09 L869.49,898.33 L868.76,897.44 L868.13,896.41 L867.60,895.26 L867.18,893.99 L866.86,892.62 L866.66,891.14 L866.56,889.57 L866.58,887.92 L866.71,886.20 L866.95,884.42 L867.30,882.58 L867.75,880.71 L868.32,878.81 L868.98,876.90 L869.74,874.98 L870.59,873.07 L871.52,871.18 L872.54,869.33 L873.64,867.51 L874.80,865.75 L876.02,864.06 L877.30,862.44 L878.62,860.90 L879.98,859.46 L881.36,858.13 L882.77,856.90 L884.19,855.80 L885.61,854.82 L887.03,853.97 L888.43,853.27 L889.81,852.70 L891.16,852.28 L892.47,852.01 L893.73,851.89 L894.93,851.92 L896.07,852.10 L897.14,852.42 L898.14,852.90" fill="none" stroke="#231f20" stroke-width="2.60"/>
<path d="M875.12,901.95 L874.21,901.34 L873.39,900.58 L872.66,899.68 L872.03,898.65 L871.50,897.50 L871.08,896.24 L870.76,894.86 L870.56,893.38 L870.46,891.81 L870.48,890.16 L870.61,888.44 L870.85,886.66 L871.20,884.83 L871.66,882.96 L872.22,881.06 L872.88,879.14 L873.64,877.23 L874.49,875.32 L875.43,873.43 L876.44,871.57 L877.54,869.75 L878.70,867.99 L879.92,866.30 L881.20,864.68 L882.52,863.14 L883.88,861.70 L885.26,860.37 L886.67,859.14 L888.09,858.04 L889.52,857.06 L890.93,856.22 L892.34,855.51 L893.71,854.94 L895.06,854.53 L896.37,854.25 L897.63,854.13 L898.83,854.16 L899.98,854.34 L901.05,854.67 L902.04,855.14" fill="none" stroke="#231f20" stroke-width="2.50"/>
<path d="M876.59,902.80 L875.68,902.18 L874.86,901.42 L874.13,900.53 L873.50,899.50 L872.97,898.35 L872.55,897.08 L872.24,895.71 L872.03,894.23 L871.94,892.66 L871.95,891.01 L872.08,889.29 L872.32,887.51 L872.67,885.68 L873.13,883.80 L873.69,881.91 L874.35,879.99 L875.11,878.07 L875.96,876.16 L876.90,874.28 L877.92,872.42 L879.01,870.60 L880.17,868.84 L881.39,867.15 L882.67,865.53 L883.99,863.99 L885.35,862.55 L886.74,861.22 L888.15,859.99 L889.57,858.89 L890.99,857.91 L892.41,857.07 L893.81,856.36 L895.19,855.79 L896.54,855.37 L897.84,855.10 L899.10,854.98 L900.31,855.01 L901.45,855.19 L902.52,855.51 L903.51,855.99" fill="none" stroke="#231f20" stroke-width="1.00"/>
<ellipse cx="892.56" cy="880.26" rx="26.60" ry="13.80" transform="rotate(-60.1 892.56 880.26)" fill="#fff" stroke="#231f20" stroke-width="2.70"/>
<ellipse cx="870.74" cy="794.69" rx="13.00" ry="7.80" transform="rotate(-60.1 870.74 794.69)" fill="#fff" stroke="#231f20" stroke-width="2.50"/>
<path d="M877.23,783.42 L881.13,785.66 L868.17,808.20 L864.26,805.96 Z" fill="#fff" stroke="none" stroke-width="2.95"/>
<line x1="877.23" y1="783.42" x2="881.13" y2="785.66" stroke="#231f20" stroke-width="2.50" stroke-linecap="round"/>
<line x1="864.26" y1="805.96" x2="868.17" y2="808.20" stroke="#231f20" stroke-width="2.50" stroke-linecap="round"/>
<ellipse cx="874.65" cy="796.93" rx="13.00" ry="7.80" transform="rotate(-60.1 874.65 796.93)" fill="#fff" stroke="#231f20" stroke-width="2.50"/>
<ellipse cx="874.65" cy="796.93" rx="12.40" ry="7.44" transform="rotate(-60.1 874.65 796.93)" fill="#fff" stroke="#231f20" stroke-width="2.30"/>
<path d="M880.83,786.18 L883.86,787.93 L871.50,809.43 L868.46,807.68 Z" fill="#fff" stroke="none" stroke-width="2.95"/>
<line x1="880.83" y1="786.18" x2="883.86" y2="787.93" stroke="#231f20" stroke-width="2.30" stroke-linecap="round"/>
<line x1="868.46" y1="807.68" x2="871.50" y2="809.43" stroke="#231f20" stroke-width="2.30" stroke-linecap="round"/>
<ellipse cx="877.68" cy="798.68" rx="12.40" ry="7.44" transform="rotate(-60.1 877.68 798.68)" fill="#fff" stroke="#231f20" stroke-width="2.30"/>
<ellipse cx="881.58" cy="800.92" rx="25.00" ry="15.00" transform="rotate(-60.1 881.58 800.92)" fill="#fff" stroke="#231f20" stroke-width="2.70"/>
<path d="M894.04,779.25 L903.58,784.73 L878.65,828.08 L869.12,822.59 Z" fill="#fff" stroke="none" stroke-width="2.95"/>
<line x1="894.04" y1="779.25" x2="903.58" y2="784.73" stroke="#231f20" stroke-width="2.70" stroke-linecap="round"/>
<line x1="869.12" y1="822.59" x2="878.65" y2="828.08" stroke="#231f20" stroke-width="2.70" stroke-linecap="round"/>
<ellipse cx="891.12" cy="806.40" rx="25.00" ry="15.00" transform="rotate(-60.1 891.12 806.40)" fill="#fff" stroke="#231f20" stroke-width="2.70"/>
<ellipse cx="891.55" cy="806.65" rx="14.00" ry="8.40" transform="rotate(-60.1 891.55 806.65)" fill="#fff" stroke="#231f20" stroke-width="2.70"/>
<path d="M898.53,794.52 L928.87,811.97 L914.91,836.24 L884.57,818.79 Z" fill="#fff" stroke="none" stroke-width="2.95"/>
<line x1="898.53" y1="794.52" x2="928.87" y2="811.97" stroke="#231f20" stroke-width="2.70" stroke-linecap="round"/>
<line x1="884.57" y1="818.79" x2="914.91" y2="836.24" stroke="#231f20" stroke-width="2.70" stroke-linecap="round"/>
<ellipse cx="921.89" cy="824.10" rx="27.00" ry="16.20" transform="rotate(-60.1 921.89 824.10)" fill="#fff" stroke="#231f20" stroke-width="2.70"/>
<path d="M935.35,800.70 L969.77,820.49 L942.85,867.30 L908.43,847.51 Z" fill="#fff" stroke="none" stroke-width="2.95"/>
<line x1="935.35" y1="800.70" x2="969.77" y2="820.49" stroke="#231f20" stroke-width="2.70" stroke-linecap="round"/>
<line x1="908.43" y1="847.51" x2="942.85" y2="867.30" stroke="#231f20" stroke-width="2.70" stroke-linecap="round"/>
<path d="M935.22,862.91 L934.31,862.29 L933.49,861.53 L932.76,860.64 L932.13,859.61 L931.60,858.46 L931.18,857.19 L930.86,855.82 L930.66,854.34 L930.56,852.77 L930.58,851.12 L930.71,849.40 L930.95,847.62 L931.30,845.78 L931.75,843.91 L932.32,842.01 L932.98,840.10 L933.74,838.18 L934.59,836.27 L935.52,834.38 L936.54,832.53 L937.64,830.71 L938.80,828.95 L940.02,827.26 L941.30,825.64 L942.62,824.10 L943.98,822.66 L945.36,821.33 L946.77,820.10 L948.19,819.00 L949.61,818.02 L951.03,817.17 L952.43,816.47 L953.81,815.90 L955.16,815.48 L956.47,815.21 L957.73,815.09 L958.93,815.12 L960.07,815.30 L961.14,815.62 L962.14,816.10" fill="none" stroke="#231f20" stroke-width="2.60"/>
<path d="M939.12,865.15 L938.21,864.54 L937.39,863.78 L936.66,862.88 L936.03,861.85 L935.50,860.70 L935.08,859.44 L934.76,858.06 L934.56,856.58 L934.46,855.01 L934.48,853.36 L934.61,851.64 L934.85,849.86 L935.20,848.03 L935.66,846.16 L936.22,844.26 L936.88,842.34 L937.64,840.43 L938.49,838.52 L939.43,836.63 L940.44,834.77 L941.54,832.95 L942.70,831.19 L943.92,829.50 L945.20,827.88 L946.52,826.34 L947.88,824.90 L949.26,823.57 L950.67,822.34 L952.09,821.24 L953.52,820.26 L954.93,819.42 L956.34,818.71 L957.71,818.14 L959.06,817.73 L960.37,817.45 L961.63,817.33 L962.83,817.36 L963.98,817.54 L965.05,817.87 L966.04,818.34" fill="none" stroke="#231f20" stroke-width="2.50"/>
<path d="M940.59,866.00 L939.68,865.38 L938.86,864.62 L938.13,863.73 L937.50,862.70 L936.97,861.55 L936.55,860.28 L936.24,858.91 L936.03,857.43 L935.94,855.86 L935.95,854.21 L936.08,852.49 L936.32,850.71 L936.67,848.88 L937.13,847.00 L937.69,845.11 L938.35,843.19 L939.11,841.27 L939.96,839.36 L940.90,837.48 L941.92,835.62 L943.01,833.80 L944.17,832.04 L945.39,830.35 L946.67,828.73 L947.99,827.19 L949.35,825.75 L950.74,824.42 L952.15,823.19 L953.57,822.09 L954.99,821.11 L956.41,820.27 L957.81,819.56 L959.19,818.99 L960.54,818.57 L961.84,818.30 L963.10,818.18 L964.31,818.21 L965.45,818.39 L966.52,818.71 L967.51,819.19" fill="none" stroke="#231f20" stroke-width="1.00"/>
<ellipse cx="956.56" cy="843.46" rx="26.60" ry="13.80" transform="rotate(-60.1 956.56 843.46)" fill="#fff" stroke="#231f20" stroke-width="2.70"/>
<ellipse cx="934.74" cy="757.89" rx="13.00" ry="7.80" transform="rotate(-60.1 934.74 757.89)" fill="#fff" stroke="#231f20" stroke-width="2.50"/>
<path d="M941.23,746.62 L945.13,748.86 L932.17,771.40 L928.26,769.16 Z" fill="#fff" stroke="none" stroke-width="2.95"/>
<line x1="941.23" y1="746.62" x2="945.13" y2="748.86" stroke="#231f20" stroke-width="2.50" stroke-linecap="round"/>
<line x1="928.26" y1="769.16" x2="932.17" y2="771.40" stroke="#231f20" stroke-width="2.50" stroke-linecap="round"/>
<ellipse cx="938.65" cy="760.13" rx="13.00" ry="7.80" transform="rotate(-60.1 938.65 760.13)" fill="#fff" stroke="#231f20" stroke-width="2.50"/>
<ellipse cx="938.65" cy="760.13" rx="12.40" ry="7.44" transform="rotate(-60.1 938.65 760.13)" fill="#fff" stroke="#231f20" stroke-width="2.30"/>
<path d="M944.83,749.38 L947.86,751.13 L935.50,772.63 L932.46,770.88 Z" fill="#fff" stroke="none" stroke-width="2.95"/>
<line x1="944.83" y1="749.38" x2="947.86" y2="751.13" stroke="#231f20" stroke-width="2.30" stroke-linecap="round"/>
<line x1="932.46" y1="770.88" x2="935.50" y2="772.63" stroke="#231f20" stroke-width="2.30" stroke-linecap="round"/>
<ellipse cx="941.68" cy="761.88" rx="12.40" ry="7.44" transform="rotate(-60.1 941.68 761.88)" fill="#fff" stroke="#231f20" stroke-width="2.30"/>
<ellipse cx="945.58" cy="764.12" rx="25.00" ry="15.00" transform="rotate(-60.1 945.58 764.12)" fill="#fff" stroke="#231f20" stroke-width="2.70"/>
<path d="M958.04,742.45 L967.58,747.93 L942.65,791.28 L933.12,785.79 Z" fill="#fff" stroke="none" stroke-width="2.95"/>
<line x1="958.04" y1="742.45" x2="967.58" y2="747.93" stroke="#231f20" stroke-width="2.70" stroke-linecap="round"/>
<line x1="933.12" y1="785.79" x2="942.65" y2="791.28" stroke="#231f20" stroke-width="2.70" stroke-linecap="round"/>
<ellipse cx="955.12" cy="769.61" rx="25.00" ry="15.00" transform="rotate(-60.1 955.12 769.61)" fill="#fff" stroke="#231f20" stroke-width="2.70"/>
<ellipse cx="955.55" cy="769.85" rx="14.00" ry="8.40" transform="rotate(-60.1 955.55 769.85)" fill="#fff" stroke="#231f20" stroke-width="2.70"/>
<path d="M962.53,757.72 L992.87,775.17 L978.91,799.44 L948.57,781.99 Z" fill="#fff" stroke="none" stroke-width="2.95"/>
<line x1="962.53" y1="757.72" x2="992.87" y2="775.17" stroke="#231f20" stroke-width="2.70" stroke-linecap="round"/>
<line x1="948.57" y1="781.99" x2="978.91" y2="799.44" stroke="#231f20" stroke-width="2.70" stroke-linecap="round"/>
<ellipse cx="985.89" cy="787.30" rx="27.00" ry="16.20" transform="rotate(-60.1 985.89 787.30)" fill="#fff" stroke="#231f20" stroke-width="2.70"/>
<path d="M999.35,763.90 L1033.77,783.69 L1006.85,830.50 L972.43,810.71 Z" fill="#fff" stroke="none" stroke-width="2.95"/>
<line x1="999.35" y1="763.90" x2="1033.77" y2="783.69" stroke="#231f20" stroke-width="2.70" stroke-linecap="round"/>
<line x1="972.43" y1="810.71" x2="1006.85" y2="830.50" stroke="#231f20" stroke-width="2.70" stroke-linecap="round"/>
<path d="M999.22,826.11 L998.31,825.49 L997.49,824.73 L996.76,823.84 L996.13,822.81 L995.60,821.66 L995.18,820.39 L994.86,819.02 L994.66,817.54 L994.56,815.97 L994.58,814.32 L994.71,812.60 L994.95,810.82 L995.30,808.98 L995.75,807.11 L996.32,805.21 L996.98,803.30 L997.74,801.38 L998.59,799.47 L999.52,797.58 L1000.54,795.73 L1001.64,793.91 L1002.80,792.15 L1004.02,790.46 L1005.30,788.84 L1006.62,787.30 L1007.98,785.86 L1009.36,784.53 L1010.77,783.30 L1012.19,782.20 L1013.61,781.22 L1015.03,780.37 L1016.43,779.67 L1017.81,779.10 L1019.16,778.68 L1020.47,778.41 L1021.73,778.29 L1022.93,778.32 L1024.07,778.50 L1025.14,778.82 L1026.14,779.30" fill="none" stroke="#231f20" stroke-width="2.60"/>
<path d="M1003.12,828.35 L1002.21,827.74 L1001.39,826.98 L1000.66,826.08 L1000.03,825.05 L999.50,823.90 L999.08,822.64 L998.76,821.26 L998.56,819.78 L998.46,818.21 L998.48,816.56 L998.61,814.84 L998.85,813.06 L999.20,811.23 L999.66,809.36 L1000.22,807.46 L1000.88,805.54 L1001.64,803.63 L1002.49,801.72 L1003.43,799.83 L1004.44,797.97 L1005.54,796.15 L1006.70,794.39 L1007.92,792.70 L1009.20,791.08 L1010.52,789.54 L1011.88,788.10 L1013.26,786.77 L1014.67,785.54 L1016.09,784.44 L1017.52,783.46 L1018.93,782.62 L1020.34,781.91 L1021.71,781.34 L1023.06,780.93 L1024.37,780.65 L1025.63,780.53 L1026.83,780.56 L1027.98,780.74 L1029.05,781.07 L1030.04,781.54" fill="none" stroke="#231f20" stroke-width="2.50"/>
<path d="M1004.59,829.20 L1003.68,828.58 L1002.86,827.82 L1002.13,826.93 L1001.50,825.90 L1000.97,824.75 L1000.55,823.48 L1000.24,822.11 L1000.03,820.63 L999.94,819.06 L999.95,817.41 L1000.08,815.69 L1000.32,813.91 L1000.67,812.08 L1001.13,810.20 L1001.69,808.31 L1002.35,806.39 L1003.11,804.47 L1003.96,802.56 L1004.90,800.68 L1005.92,798.82 L1007.01,797.00 L1008.17,795.24 L1009.39,793.55 L1010.67,791.93 L1011.99,790.39 L1013.35,788.95 L1014.74,787.62 L1016.15,786.39 L1017.57,785.29 L1018.99,784.31 L1020.41,783.47 L1021.81,782.76 L1023.19,782.19 L1024.54,781.77 L1025.84,781.50 L1027.10,781.38 L1028.31,781.41 L1029.45,781.59 L1030.52,781.91 L1031.51,782.39" fill="none" stroke="#231f20" stroke-width="1.00"/>
<ellipse cx="1020.56" cy="806.66" rx="26.60" ry="13.80" transform="rotate(-60.1 1020.56 806.66)" fill="#fff" stroke="#231f20" stroke-width="2.70"/>
<line x1="473.10" y1="319.80" x2="307.89" y2="599.85" stroke="#231f20" stroke-width="2.80" stroke-linecap="round"/>
<line x1="473.10" y1="319.80" x2="368.18" y2="560.55" stroke="#231f20" stroke-width="2.80" stroke-linecap="round"/>
<line x1="473.10" y1="319.80" x2="434.57" y2="525.37" stroke="#231f20" stroke-width="2.80" stroke-linecap="round"/>
<line x1="473.10" y1="319.80" x2="494.23" y2="486.99" stroke="#231f20" stroke-width="2.80" stroke-linecap="round"/>
<line x1="729.70" y1="435.20" x2="623.30" y2="781.70" stroke="#231f20" stroke-width="2.80" stroke-linecap="round"/>
<line x1="729.70" y1="435.20" x2="695.60" y2="747.00" stroke="#231f20" stroke-width="2.80" stroke-linecap="round"/>
<line x1="729.70" y1="435.20" x2="763.90" y2="706.00" stroke="#231f20" stroke-width="2.80" stroke-linecap="round"/>
<line x1="729.70" y1="435.20" x2="826.90" y2="669.50" stroke="#231f20" stroke-width="2.80" stroke-linecap="round"/>
<line x1="843.80" y1="661.40" x2="845.00" y2="666.40" stroke="#231f20" stroke-width="2.20" stroke-linecap="round"/>
</g>
<g fill="#231f20" font-family="'Liberation Sans', sans-serif" font-size="41" text-anchor="middle" opacity="0.999">
<text transform="translate(473.35 247.5) scale(1.045 1)">stop</text>
<text transform="translate(473.75 290.8) scale(1.035 1)">bushings</text>
<text transform="translate(735.4 367.5) scale(1.045 1)">support</text>
<text transform="translate(735.4 410.8) scale(1.035 1)">bushings</text>
<text transform="translate(993.1 931.2) scale(1.04 1)">cords</text>
</g>
</svg>
</body></html>
